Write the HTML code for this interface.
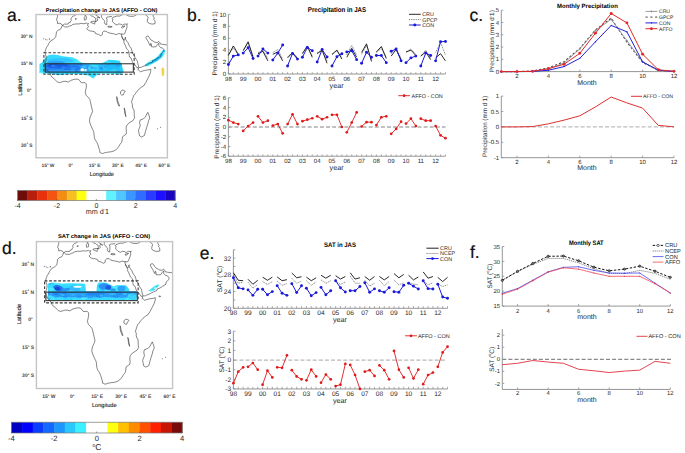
<!DOCTYPE html>
<html><head><meta charset="utf-8"><title>Figure</title>
<style>html,body{margin:0;padding:0;background:#fff;} svg{display:block;} text{font-family:"Liberation Sans", sans-serif;text-rendering:geometricPrecision;}</style>
</head><body>
<svg width="685" height="453" viewBox="0 0 685 453">
<rect width="685" height="453" fill="#fff"/>
<text x="7.00" y="20.80" font-size="17.5" text-anchor="start" fill="#111" stroke="#111" stroke-width="0.2">a.</text>
<text x="187.00" y="21.00" font-size="17.5" text-anchor="start" fill="#111" stroke="#111" stroke-width="0.2">b.</text>
<text x="469.50" y="20.80" font-size="17.5" text-anchor="start" fill="#111" stroke="#111" stroke-width="0.2">c.</text>
<text x="2.00" y="254.40" font-size="17.5" text-anchor="start" fill="#111" stroke="#111" stroke-width="0.2">d.</text>
<text x="199.80" y="258.70" font-size="17.5" text-anchor="start" fill="#111" stroke="#111" stroke-width="0.2">e.</text>
<text x="470.00" y="258.40" font-size="17.5" text-anchor="start" fill="#111" stroke="#111" stroke-width="0.2">f.</text>
<path d="M228.4,14.300000000000004 L228.4,74.0 L445.4666666666667,74.0" fill="none" stroke="#8a8a8a" stroke-width="0.9"/>
<path d="M228.4,74.00 h2.0" stroke="#8a8a8a" stroke-width="0.8"/>
<path d="M228.4,62.06 h2.0" stroke="#8a8a8a" stroke-width="0.8"/>
<path d="M228.4,50.12 h2.0" stroke="#8a8a8a" stroke-width="0.8"/>
<path d="M228.4,38.18 h2.0" stroke="#8a8a8a" stroke-width="0.8"/>
<path d="M228.4,26.24 h2.0" stroke="#8a8a8a" stroke-width="0.8"/>
<path d="M228.4,14.30 h2.0" stroke="#8a8a8a" stroke-width="0.8"/>
<text x="226.20" y="76.20" font-size="6.1" text-anchor="end" fill="#282828">0</text>
<text x="226.20" y="64.26" font-size="6.1" text-anchor="end" fill="#282828">2</text>
<text x="226.20" y="52.32" font-size="6.1" text-anchor="end" fill="#282828">4</text>
<text x="226.20" y="40.38" font-size="6.1" text-anchor="end" fill="#282828">6</text>
<text x="226.20" y="28.44" font-size="6.1" text-anchor="end" fill="#282828">8</text>
<text x="226.20" y="16.50" font-size="6.1" text-anchor="end" fill="#282828">10</text>
<path d="M228.40,74.0 v-1.8" stroke="#8a8a8a" stroke-width="0.7"/>
<path d="M233.33,74.0 v-1.8" stroke="#8a8a8a" stroke-width="0.7"/>
<path d="M238.27,74.0 v-1.8" stroke="#8a8a8a" stroke-width="0.7"/>
<path d="M243.20,74.0 v-1.8" stroke="#8a8a8a" stroke-width="0.7"/>
<path d="M248.13,74.0 v-1.8" stroke="#8a8a8a" stroke-width="0.7"/>
<path d="M253.07,74.0 v-1.8" stroke="#8a8a8a" stroke-width="0.7"/>
<path d="M258.00,74.0 v-1.8" stroke="#8a8a8a" stroke-width="0.7"/>
<path d="M262.93,74.0 v-1.8" stroke="#8a8a8a" stroke-width="0.7"/>
<path d="M267.87,74.0 v-1.8" stroke="#8a8a8a" stroke-width="0.7"/>
<path d="M272.80,74.0 v-1.8" stroke="#8a8a8a" stroke-width="0.7"/>
<path d="M277.73,74.0 v-1.8" stroke="#8a8a8a" stroke-width="0.7"/>
<path d="M282.67,74.0 v-1.8" stroke="#8a8a8a" stroke-width="0.7"/>
<path d="M287.60,74.0 v-1.8" stroke="#8a8a8a" stroke-width="0.7"/>
<path d="M292.53,74.0 v-1.8" stroke="#8a8a8a" stroke-width="0.7"/>
<path d="M297.47,74.0 v-1.8" stroke="#8a8a8a" stroke-width="0.7"/>
<path d="M302.40,74.0 v-1.8" stroke="#8a8a8a" stroke-width="0.7"/>
<path d="M307.33,74.0 v-1.8" stroke="#8a8a8a" stroke-width="0.7"/>
<path d="M312.27,74.0 v-1.8" stroke="#8a8a8a" stroke-width="0.7"/>
<path d="M317.20,74.0 v-1.8" stroke="#8a8a8a" stroke-width="0.7"/>
<path d="M322.13,74.0 v-1.8" stroke="#8a8a8a" stroke-width="0.7"/>
<path d="M327.07,74.0 v-1.8" stroke="#8a8a8a" stroke-width="0.7"/>
<path d="M332.00,74.0 v-1.8" stroke="#8a8a8a" stroke-width="0.7"/>
<path d="M336.93,74.0 v-1.8" stroke="#8a8a8a" stroke-width="0.7"/>
<path d="M341.87,74.0 v-1.8" stroke="#8a8a8a" stroke-width="0.7"/>
<path d="M346.80,74.0 v-1.8" stroke="#8a8a8a" stroke-width="0.7"/>
<path d="M351.73,74.0 v-1.8" stroke="#8a8a8a" stroke-width="0.7"/>
<path d="M356.67,74.0 v-1.8" stroke="#8a8a8a" stroke-width="0.7"/>
<path d="M361.60,74.0 v-1.8" stroke="#8a8a8a" stroke-width="0.7"/>
<path d="M366.53,74.0 v-1.8" stroke="#8a8a8a" stroke-width="0.7"/>
<path d="M371.47,74.0 v-1.8" stroke="#8a8a8a" stroke-width="0.7"/>
<path d="M376.40,74.0 v-1.8" stroke="#8a8a8a" stroke-width="0.7"/>
<path d="M381.33,74.0 v-1.8" stroke="#8a8a8a" stroke-width="0.7"/>
<path d="M386.27,74.0 v-1.8" stroke="#8a8a8a" stroke-width="0.7"/>
<path d="M391.20,74.0 v-1.8" stroke="#8a8a8a" stroke-width="0.7"/>
<path d="M396.13,74.0 v-1.8" stroke="#8a8a8a" stroke-width="0.7"/>
<path d="M401.07,74.0 v-1.8" stroke="#8a8a8a" stroke-width="0.7"/>
<path d="M406.00,74.0 v-1.8" stroke="#8a8a8a" stroke-width="0.7"/>
<path d="M410.93,74.0 v-1.8" stroke="#8a8a8a" stroke-width="0.7"/>
<path d="M415.87,74.0 v-1.8" stroke="#8a8a8a" stroke-width="0.7"/>
<path d="M420.80,74.0 v-1.8" stroke="#8a8a8a" stroke-width="0.7"/>
<path d="M425.73,74.0 v-1.8" stroke="#8a8a8a" stroke-width="0.7"/>
<path d="M430.67,74.0 v-1.8" stroke="#8a8a8a" stroke-width="0.7"/>
<path d="M435.60,74.0 v-1.8" stroke="#8a8a8a" stroke-width="0.7"/>
<path d="M440.53,74.0 v-1.8" stroke="#8a8a8a" stroke-width="0.7"/>
<path d="M445.47,74.0 v-1.8" stroke="#8a8a8a" stroke-width="0.7"/>
<text x="228.40" y="80.80" font-size="6.1" text-anchor="middle" fill="#282828">98</text>
<text x="243.20" y="80.80" font-size="6.1" text-anchor="middle" fill="#282828">99</text>
<text x="258.00" y="80.80" font-size="6.1" text-anchor="middle" fill="#282828">00</text>
<text x="272.80" y="80.80" font-size="6.1" text-anchor="middle" fill="#282828">01</text>
<text x="287.60" y="80.80" font-size="6.1" text-anchor="middle" fill="#282828">02</text>
<text x="302.40" y="80.80" font-size="6.1" text-anchor="middle" fill="#282828">03</text>
<text x="317.20" y="80.80" font-size="6.1" text-anchor="middle" fill="#282828">04</text>
<text x="332.00" y="80.80" font-size="6.1" text-anchor="middle" fill="#282828">05</text>
<text x="346.80" y="80.80" font-size="6.1" text-anchor="middle" fill="#282828">06</text>
<text x="361.60" y="80.80" font-size="6.1" text-anchor="middle" fill="#282828">07</text>
<text x="376.40" y="80.80" font-size="6.1" text-anchor="middle" fill="#282828">08</text>
<text x="391.20" y="80.80" font-size="6.1" text-anchor="middle" fill="#282828">09</text>
<text x="406.00" y="80.80" font-size="6.1" text-anchor="middle" fill="#282828">10</text>
<text x="420.80" y="80.80" font-size="6.1" text-anchor="middle" fill="#282828">11</text>
<text x="435.60" y="80.80" font-size="6.1" text-anchor="middle" fill="#282828">12</text>
<path d="M228.40,54.30 L233.33,48.33 L238.27,54.90" fill="none" stroke="#444" stroke-width="0.7" stroke-dasharray="1,0.8" stroke-linejoin="round"/>
<path d="M243.20,50.12 L248.13,42.96 L253.07,56.09" fill="none" stroke="#444" stroke-width="0.7" stroke-dasharray="1,0.8" stroke-linejoin="round"/>
<path d="M258.00,52.51 L262.93,50.12 L267.87,58.48" fill="none" stroke="#444" stroke-width="0.7" stroke-dasharray="1,0.8" stroke-linejoin="round"/>
<path d="M272.80,52.51 L277.73,49.52 L282.67,59.08" fill="none" stroke="#444" stroke-width="0.7" stroke-dasharray="1,0.8" stroke-linejoin="round"/>
<path d="M287.60,56.69 L292.53,53.11 L297.47,57.88" fill="none" stroke="#444" stroke-width="0.7" stroke-dasharray="1,0.8" stroke-linejoin="round"/>
<path d="M302.40,52.51 L307.33,47.14 L312.27,56.09" fill="none" stroke="#444" stroke-width="0.7" stroke-dasharray="1,0.8" stroke-linejoin="round"/>
<path d="M317.20,52.51 L322.13,50.12 L327.07,60.87" fill="none" stroke="#444" stroke-width="0.7" stroke-dasharray="1,0.8" stroke-linejoin="round"/>
<path d="M332.00,54.90 L336.93,50.72 L341.87,57.28" fill="none" stroke="#444" stroke-width="0.7" stroke-dasharray="1,0.8" stroke-linejoin="round"/>
<path d="M346.80,54.90 L351.73,45.34 L356.67,54.90" fill="none" stroke="#444" stroke-width="0.7" stroke-dasharray="1,0.8" stroke-linejoin="round"/>
<path d="M361.60,54.30 L366.53,45.34 L371.47,60.27" fill="none" stroke="#444" stroke-width="0.7" stroke-dasharray="1,0.8" stroke-linejoin="round"/>
<path d="M376.40,52.51 L381.33,48.33 L386.27,57.28" fill="none" stroke="#444" stroke-width="0.7" stroke-dasharray="1,0.8" stroke-linejoin="round"/>
<path d="M391.20,53.70 L396.13,48.33 L401.07,58.48" fill="none" stroke="#444" stroke-width="0.7" stroke-dasharray="1,0.8" stroke-linejoin="round"/>
<path d="M406.00,52.51 L410.93,48.93 L415.87,54.30" fill="none" stroke="#444" stroke-width="0.7" stroke-dasharray="1,0.8" stroke-linejoin="round"/>
<path d="M420.80,56.09 L425.73,50.12 L430.67,58.48" fill="none" stroke="#444" stroke-width="0.7" stroke-dasharray="1,0.8" stroke-linejoin="round"/>
<path d="M435.60,52.51 L440.53,42.36 L445.47,54.90" fill="none" stroke="#444" stroke-width="0.7" stroke-dasharray="1,0.8" stroke-linejoin="round"/>
<path d="M228.40,55.49 L233.33,45.94 L238.27,54.30" fill="none" stroke="#111" stroke-width="0.9" stroke-linejoin="round"/>
<path d="M243.20,50.72 L248.13,41.76 L253.07,57.28" fill="none" stroke="#111" stroke-width="0.9" stroke-linejoin="round"/>
<path d="M258.00,53.70 L262.93,51.31 L267.87,60.87" fill="none" stroke="#111" stroke-width="0.9" stroke-linejoin="round"/>
<path d="M272.80,54.30 L277.73,51.91 L282.67,60.87" fill="none" stroke="#111" stroke-width="0.9" stroke-linejoin="round"/>
<path d="M287.60,57.88 L292.53,52.51 L297.47,58.48" fill="none" stroke="#111" stroke-width="0.9" stroke-linejoin="round"/>
<path d="M302.40,53.70 L307.33,45.94 L312.27,57.28" fill="none" stroke="#111" stroke-width="0.9" stroke-linejoin="round"/>
<path d="M317.20,53.70 L322.13,50.12 L327.07,63.25" fill="none" stroke="#111" stroke-width="0.9" stroke-linejoin="round"/>
<path d="M332.00,54.30 L336.93,50.12 L341.87,59.08" fill="none" stroke="#111" stroke-width="0.9" stroke-linejoin="round"/>
<path d="M346.80,57.28 L351.73,48.33 L356.67,57.28" fill="none" stroke="#111" stroke-width="0.9" stroke-linejoin="round"/>
<path d="M361.60,52.51 L366.53,43.85 L371.47,61.46" fill="none" stroke="#111" stroke-width="0.9" stroke-linejoin="round"/>
<path d="M376.40,51.91 L381.33,46.54 L386.27,58.48" fill="none" stroke="#111" stroke-width="0.9" stroke-linejoin="round"/>
<path d="M391.20,56.09 L396.13,49.52 L401.07,59.67" fill="none" stroke="#111" stroke-width="0.9" stroke-linejoin="round"/>
<path d="M406.00,51.91 L410.93,50.12 L415.87,55.49" fill="none" stroke="#111" stroke-width="0.9" stroke-linejoin="round"/>
<path d="M420.80,56.09 L425.73,51.91 L430.67,59.67" fill="none" stroke="#111" stroke-width="0.9" stroke-linejoin="round"/>
<path d="M435.60,57.88 L440.53,53.70 L445.47,60.87" fill="none" stroke="#111" stroke-width="0.9" stroke-linejoin="round"/>
<path d="M228.40,64.45 L233.33,56.09 L238.27,54.90" fill="none" stroke="#1a1ad8" stroke-width="1.0" stroke-linejoin="round"/>
<circle cx="228.40" cy="64.45" r="1.45" fill="#1a1ad8"/>
<circle cx="233.33" cy="56.09" r="1.45" fill="#1a1ad8"/>
<circle cx="238.27" cy="54.90" r="1.45" fill="#1a1ad8"/>
<path d="M243.20,53.11 L248.13,47.73 L253.07,58.48" fill="none" stroke="#1a1ad8" stroke-width="1.0" stroke-linejoin="round"/>
<circle cx="243.20" cy="53.11" r="1.45" fill="#1a1ad8"/>
<circle cx="248.13" cy="47.73" r="1.45" fill="#1a1ad8"/>
<circle cx="253.07" cy="58.48" r="1.45" fill="#1a1ad8"/>
<path d="M258.00,56.09 L262.93,48.93 L267.87,53.11" fill="none" stroke="#1a1ad8" stroke-width="1.0" stroke-linejoin="round"/>
<circle cx="258.00" cy="56.09" r="1.45" fill="#1a1ad8"/>
<circle cx="262.93" cy="48.93" r="1.45" fill="#1a1ad8"/>
<circle cx="267.87" cy="53.11" r="1.45" fill="#1a1ad8"/>
<path d="M272.80,59.97 L277.73,53.11 L282.67,45.05" fill="none" stroke="#1a1ad8" stroke-width="1.0" stroke-linejoin="round"/>
<circle cx="272.80" cy="59.97" r="1.45" fill="#1a1ad8"/>
<circle cx="277.73" cy="53.11" r="1.45" fill="#1a1ad8"/>
<circle cx="282.67" cy="45.05" r="1.45" fill="#1a1ad8"/>
<path d="M287.60,65.94 L292.53,53.40 L297.47,59.08" fill="none" stroke="#1a1ad8" stroke-width="1.0" stroke-linejoin="round"/>
<circle cx="287.60" cy="65.94" r="1.45" fill="#1a1ad8"/>
<circle cx="292.53" cy="53.40" r="1.45" fill="#1a1ad8"/>
<circle cx="297.47" cy="59.08" r="1.45" fill="#1a1ad8"/>
<path d="M302.40,57.28 L307.33,47.43 L312.27,50.72" fill="none" stroke="#1a1ad8" stroke-width="1.0" stroke-linejoin="round"/>
<circle cx="302.40" cy="57.28" r="1.45" fill="#1a1ad8"/>
<circle cx="307.33" cy="47.43" r="1.45" fill="#1a1ad8"/>
<circle cx="312.27" cy="50.72" r="1.45" fill="#1a1ad8"/>
<path d="M317.20,62.06 L322.13,49.52 L327.07,56.99" fill="none" stroke="#1a1ad8" stroke-width="1.0" stroke-linejoin="round"/>
<circle cx="317.20" cy="62.06" r="1.45" fill="#1a1ad8"/>
<circle cx="322.13" cy="49.52" r="1.45" fill="#1a1ad8"/>
<circle cx="327.07" cy="56.99" r="1.45" fill="#1a1ad8"/>
<path d="M332.00,65.94 L336.93,56.69 L341.87,53.70" fill="none" stroke="#1a1ad8" stroke-width="1.0" stroke-linejoin="round"/>
<circle cx="332.00" cy="65.94" r="1.45" fill="#1a1ad8"/>
<circle cx="336.93" cy="56.69" r="1.45" fill="#1a1ad8"/>
<circle cx="341.87" cy="53.70" r="1.45" fill="#1a1ad8"/>
<path d="M346.80,51.91 L351.73,50.72 L356.67,59.67" fill="none" stroke="#1a1ad8" stroke-width="1.0" stroke-linejoin="round"/>
<circle cx="346.80" cy="51.91" r="1.45" fill="#1a1ad8"/>
<circle cx="351.73" cy="50.72" r="1.45" fill="#1a1ad8"/>
<circle cx="356.67" cy="59.67" r="1.45" fill="#1a1ad8"/>
<path d="M361.60,63.25 L366.53,52.21 L371.47,57.28" fill="none" stroke="#1a1ad8" stroke-width="1.0" stroke-linejoin="round"/>
<circle cx="361.60" cy="63.25" r="1.45" fill="#1a1ad8"/>
<circle cx="366.53" cy="52.21" r="1.45" fill="#1a1ad8"/>
<circle cx="371.47" cy="57.28" r="1.45" fill="#1a1ad8"/>
<path d="M376.40,55.49 L381.33,55.49 L386.27,62.66" fill="none" stroke="#1a1ad8" stroke-width="1.0" stroke-linejoin="round"/>
<circle cx="376.40" cy="55.49" r="1.45" fill="#1a1ad8"/>
<circle cx="381.33" cy="55.49" r="1.45" fill="#1a1ad8"/>
<circle cx="386.27" cy="62.66" r="1.45" fill="#1a1ad8"/>
<path d="M391.20,51.31 L396.13,48.93 L401.07,60.87" fill="none" stroke="#1a1ad8" stroke-width="1.0" stroke-linejoin="round"/>
<circle cx="391.20" cy="51.31" r="1.45" fill="#1a1ad8"/>
<circle cx="396.13" cy="48.93" r="1.45" fill="#1a1ad8"/>
<circle cx="401.07" cy="60.87" r="1.45" fill="#1a1ad8"/>
<path d="M406.00,62.66 L410.93,57.88 L415.87,56.09" fill="none" stroke="#1a1ad8" stroke-width="1.0" stroke-linejoin="round"/>
<circle cx="406.00" cy="62.66" r="1.45" fill="#1a1ad8"/>
<circle cx="410.93" cy="57.88" r="1.45" fill="#1a1ad8"/>
<circle cx="415.87" cy="56.09" r="1.45" fill="#1a1ad8"/>
<path d="M420.80,65.94 L425.73,53.11 L430.67,55.49" fill="none" stroke="#1a1ad8" stroke-width="1.0" stroke-linejoin="round"/>
<circle cx="420.80" cy="65.94" r="1.45" fill="#1a1ad8"/>
<circle cx="425.73" cy="53.11" r="1.45" fill="#1a1ad8"/>
<circle cx="430.67" cy="55.49" r="1.45" fill="#1a1ad8"/>
<path d="M435.60,60.87 L440.53,41.76 L445.47,41.46" fill="none" stroke="#1a1ad8" stroke-width="1.0" stroke-linejoin="round"/>
<circle cx="435.60" cy="60.87" r="1.45" fill="#1a1ad8"/>
<circle cx="440.53" cy="41.76" r="1.45" fill="#1a1ad8"/>
<circle cx="445.47" cy="41.46" r="1.45" fill="#1a1ad8"/>
<text x="337.00" y="11.70" font-size="7" text-anchor="middle" fill="#000" font-weight="bold" textLength="58.4" lengthAdjust="spacingAndGlyphs">Precipitation in JAS</text>
<text x="336.60" y="87.59" font-size="7.2" text-anchor="middle" fill="#282828">year</text>
<text x="217.08" y="43.40" font-size="6.6" text-anchor="middle" fill="#282828" textLength="64.4" lengthAdjust="spacingAndGlyphs" transform="rotate(-90 217.08 43.40)">Precipitation (mm d<tspan font-size="4.2" dy="-2.4">-</tspan><tspan dy="2.4">1)</tspan></text>
<path d="M409.00,14.30 L420.70,14.30" fill="none" stroke="#111" stroke-width="0.9" stroke-linejoin="round"/>
<path d="M409.00,19.60 L420.70,19.60" fill="none" stroke="#444" stroke-width="0.7" stroke-dasharray="1,0.8" stroke-linejoin="round"/>
<path d="M409.00,25.00 L420.70,25.00" fill="none" stroke="#1a1ad8" stroke-width="1.0" stroke-linejoin="round"/>
<circle cx="414.80" cy="25.00" r="1.45" fill="#1a1ad8"/>
<text x="422.20" y="16.24" font-size="5.4" text-anchor="start" fill="#282828">CRU</text>
<text x="422.20" y="21.54" font-size="5.4" text-anchor="start" fill="#282828">GPCP</text>
<text x="422.20" y="26.94" font-size="5.4" text-anchor="start" fill="#282828">CON</text>
<path d="M228.4,127.00 L445.47,127.00" stroke="#5a5a5a" stroke-width="0.75" stroke-dasharray="4,2.1"/>
<path d="M228.4,97.78 L228.4,156.22 L445.4666666666667,156.22" fill="none" stroke="#8a8a8a" stroke-width="0.9"/>
<path d="M228.4,156.22 h2.0" stroke="#8a8a8a" stroke-width="0.8"/>
<path d="M228.4,146.48 h2.0" stroke="#8a8a8a" stroke-width="0.8"/>
<path d="M228.4,136.74 h2.0" stroke="#8a8a8a" stroke-width="0.8"/>
<path d="M228.4,127.00 h2.0" stroke="#8a8a8a" stroke-width="0.8"/>
<path d="M228.4,117.26 h2.0" stroke="#8a8a8a" stroke-width="0.8"/>
<path d="M228.4,107.52 h2.0" stroke="#8a8a8a" stroke-width="0.8"/>
<path d="M228.4,97.78 h2.0" stroke="#8a8a8a" stroke-width="0.8"/>
<text x="226.20" y="158.42" font-size="6.1" text-anchor="end" fill="#282828">-6</text>
<text x="226.20" y="148.68" font-size="6.1" text-anchor="end" fill="#282828">-4</text>
<text x="226.20" y="138.94" font-size="6.1" text-anchor="end" fill="#282828">-2</text>
<text x="226.20" y="129.20" font-size="6.1" text-anchor="end" fill="#282828">0</text>
<text x="226.20" y="119.46" font-size="6.1" text-anchor="end" fill="#282828">2</text>
<text x="226.20" y="109.72" font-size="6.1" text-anchor="end" fill="#282828">4</text>
<text x="226.20" y="99.98" font-size="6.1" text-anchor="end" fill="#282828">6</text>
<path d="M228.40,156.22 v-1.8" stroke="#8a8a8a" stroke-width="0.7"/>
<path d="M233.33,156.22 v-1.8" stroke="#8a8a8a" stroke-width="0.7"/>
<path d="M238.27,156.22 v-1.8" stroke="#8a8a8a" stroke-width="0.7"/>
<path d="M243.20,156.22 v-1.8" stroke="#8a8a8a" stroke-width="0.7"/>
<path d="M248.13,156.22 v-1.8" stroke="#8a8a8a" stroke-width="0.7"/>
<path d="M253.07,156.22 v-1.8" stroke="#8a8a8a" stroke-width="0.7"/>
<path d="M258.00,156.22 v-1.8" stroke="#8a8a8a" stroke-width="0.7"/>
<path d="M262.93,156.22 v-1.8" stroke="#8a8a8a" stroke-width="0.7"/>
<path d="M267.87,156.22 v-1.8" stroke="#8a8a8a" stroke-width="0.7"/>
<path d="M272.80,156.22 v-1.8" stroke="#8a8a8a" stroke-width="0.7"/>
<path d="M277.73,156.22 v-1.8" stroke="#8a8a8a" stroke-width="0.7"/>
<path d="M282.67,156.22 v-1.8" stroke="#8a8a8a" stroke-width="0.7"/>
<path d="M287.60,156.22 v-1.8" stroke="#8a8a8a" stroke-width="0.7"/>
<path d="M292.53,156.22 v-1.8" stroke="#8a8a8a" stroke-width="0.7"/>
<path d="M297.47,156.22 v-1.8" stroke="#8a8a8a" stroke-width="0.7"/>
<path d="M302.40,156.22 v-1.8" stroke="#8a8a8a" stroke-width="0.7"/>
<path d="M307.33,156.22 v-1.8" stroke="#8a8a8a" stroke-width="0.7"/>
<path d="M312.27,156.22 v-1.8" stroke="#8a8a8a" stroke-width="0.7"/>
<path d="M317.20,156.22 v-1.8" stroke="#8a8a8a" stroke-width="0.7"/>
<path d="M322.13,156.22 v-1.8" stroke="#8a8a8a" stroke-width="0.7"/>
<path d="M327.07,156.22 v-1.8" stroke="#8a8a8a" stroke-width="0.7"/>
<path d="M332.00,156.22 v-1.8" stroke="#8a8a8a" stroke-width="0.7"/>
<path d="M336.93,156.22 v-1.8" stroke="#8a8a8a" stroke-width="0.7"/>
<path d="M341.87,156.22 v-1.8" stroke="#8a8a8a" stroke-width="0.7"/>
<path d="M346.80,156.22 v-1.8" stroke="#8a8a8a" stroke-width="0.7"/>
<path d="M351.73,156.22 v-1.8" stroke="#8a8a8a" stroke-width="0.7"/>
<path d="M356.67,156.22 v-1.8" stroke="#8a8a8a" stroke-width="0.7"/>
<path d="M361.60,156.22 v-1.8" stroke="#8a8a8a" stroke-width="0.7"/>
<path d="M366.53,156.22 v-1.8" stroke="#8a8a8a" stroke-width="0.7"/>
<path d="M371.47,156.22 v-1.8" stroke="#8a8a8a" stroke-width="0.7"/>
<path d="M376.40,156.22 v-1.8" stroke="#8a8a8a" stroke-width="0.7"/>
<path d="M381.33,156.22 v-1.8" stroke="#8a8a8a" stroke-width="0.7"/>
<path d="M386.27,156.22 v-1.8" stroke="#8a8a8a" stroke-width="0.7"/>
<path d="M391.20,156.22 v-1.8" stroke="#8a8a8a" stroke-width="0.7"/>
<path d="M396.13,156.22 v-1.8" stroke="#8a8a8a" stroke-width="0.7"/>
<path d="M401.07,156.22 v-1.8" stroke="#8a8a8a" stroke-width="0.7"/>
<path d="M406.00,156.22 v-1.8" stroke="#8a8a8a" stroke-width="0.7"/>
<path d="M410.93,156.22 v-1.8" stroke="#8a8a8a" stroke-width="0.7"/>
<path d="M415.87,156.22 v-1.8" stroke="#8a8a8a" stroke-width="0.7"/>
<path d="M420.80,156.22 v-1.8" stroke="#8a8a8a" stroke-width="0.7"/>
<path d="M425.73,156.22 v-1.8" stroke="#8a8a8a" stroke-width="0.7"/>
<path d="M430.67,156.22 v-1.8" stroke="#8a8a8a" stroke-width="0.7"/>
<path d="M435.60,156.22 v-1.8" stroke="#8a8a8a" stroke-width="0.7"/>
<path d="M440.53,156.22 v-1.8" stroke="#8a8a8a" stroke-width="0.7"/>
<path d="M445.47,156.22 v-1.8" stroke="#8a8a8a" stroke-width="0.7"/>
<text x="228.40" y="163.00" font-size="6.1" text-anchor="middle" fill="#282828">98</text>
<text x="243.20" y="163.00" font-size="6.1" text-anchor="middle" fill="#282828">99</text>
<text x="258.00" y="163.00" font-size="6.1" text-anchor="middle" fill="#282828">00</text>
<text x="272.80" y="163.00" font-size="6.1" text-anchor="middle" fill="#282828">01</text>
<text x="287.60" y="163.00" font-size="6.1" text-anchor="middle" fill="#282828">02</text>
<text x="302.40" y="163.00" font-size="6.1" text-anchor="middle" fill="#282828">03</text>
<text x="317.20" y="163.00" font-size="6.1" text-anchor="middle" fill="#282828">04</text>
<text x="332.00" y="163.00" font-size="6.1" text-anchor="middle" fill="#282828">05</text>
<text x="346.80" y="163.00" font-size="6.1" text-anchor="middle" fill="#282828">06</text>
<text x="361.60" y="163.00" font-size="6.1" text-anchor="middle" fill="#282828">07</text>
<text x="376.40" y="163.00" font-size="6.1" text-anchor="middle" fill="#282828">08</text>
<text x="391.20" y="163.00" font-size="6.1" text-anchor="middle" fill="#282828">09</text>
<text x="406.00" y="163.00" font-size="6.1" text-anchor="middle" fill="#282828">10</text>
<text x="420.80" y="163.00" font-size="6.1" text-anchor="middle" fill="#282828">11</text>
<text x="435.60" y="163.00" font-size="6.1" text-anchor="middle" fill="#282828">12</text>
<path d="M228.40,120.18 L233.33,122.62 L238.27,124.08" fill="none" stroke="#e01818" stroke-width="0.9" stroke-linejoin="round"/>
<circle cx="228.40" cy="120.18" r="1.35" fill="#e01818"/>
<circle cx="233.33" cy="122.62" r="1.35" fill="#e01818"/>
<circle cx="238.27" cy="124.08" r="1.35" fill="#e01818"/>
<path d="M243.20,130.90 L248.13,126.03 L253.07,122.62" fill="none" stroke="#e01818" stroke-width="0.9" stroke-linejoin="round"/>
<circle cx="243.20" cy="130.90" r="1.35" fill="#e01818"/>
<circle cx="248.13" cy="126.03" r="1.35" fill="#e01818"/>
<circle cx="253.07" cy="122.62" r="1.35" fill="#e01818"/>
<path d="M258.00,116.29 L262.93,122.62 L267.87,120.67" fill="none" stroke="#e01818" stroke-width="0.9" stroke-linejoin="round"/>
<circle cx="258.00" cy="116.29" r="1.35" fill="#e01818"/>
<circle cx="262.93" cy="122.62" r="1.35" fill="#e01818"/>
<circle cx="267.87" cy="120.67" r="1.35" fill="#e01818"/>
<path d="M272.80,125.54 L277.73,124.08 L282.67,133.33" fill="none" stroke="#e01818" stroke-width="0.9" stroke-linejoin="round"/>
<circle cx="272.80" cy="125.54" r="1.35" fill="#e01818"/>
<circle cx="277.73" cy="124.08" r="1.35" fill="#e01818"/>
<circle cx="282.67" cy="133.33" r="1.35" fill="#e01818"/>
<path d="M287.60,124.08 L292.53,114.34 L297.47,124.08" fill="none" stroke="#e01818" stroke-width="0.9" stroke-linejoin="round"/>
<circle cx="287.60" cy="124.08" r="1.35" fill="#e01818"/>
<circle cx="292.53" cy="114.34" r="1.35" fill="#e01818"/>
<circle cx="297.47" cy="124.08" r="1.35" fill="#e01818"/>
<path d="M302.40,121.16 L307.33,119.69 L312.27,118.23" fill="none" stroke="#e01818" stroke-width="0.9" stroke-linejoin="round"/>
<circle cx="302.40" cy="121.16" r="1.35" fill="#e01818"/>
<circle cx="307.33" cy="119.69" r="1.35" fill="#e01818"/>
<circle cx="312.27" cy="118.23" r="1.35" fill="#e01818"/>
<path d="M317.20,116.29 L322.13,119.21 L327.07,117.26" fill="none" stroke="#e01818" stroke-width="0.9" stroke-linejoin="round"/>
<circle cx="317.20" cy="116.29" r="1.35" fill="#e01818"/>
<circle cx="322.13" cy="119.21" r="1.35" fill="#e01818"/>
<circle cx="327.07" cy="117.26" r="1.35" fill="#e01818"/>
<path d="M332.00,114.83 L336.93,114.83 L341.87,127.00" fill="none" stroke="#e01818" stroke-width="0.9" stroke-linejoin="round"/>
<circle cx="332.00" cy="114.83" r="1.35" fill="#e01818"/>
<circle cx="336.93" cy="114.83" r="1.35" fill="#e01818"/>
<circle cx="341.87" cy="127.00" r="1.35" fill="#e01818"/>
<path d="M346.80,132.36 L351.73,122.62 L356.67,112.39" fill="none" stroke="#e01818" stroke-width="0.9" stroke-linejoin="round"/>
<circle cx="346.80" cy="132.36" r="1.35" fill="#e01818"/>
<circle cx="351.73" cy="122.62" r="1.35" fill="#e01818"/>
<circle cx="356.67" cy="112.39" r="1.35" fill="#e01818"/>
<path d="M361.60,126.51 L366.53,122.13 L371.47,122.13" fill="none" stroke="#e01818" stroke-width="0.9" stroke-linejoin="round"/>
<circle cx="361.60" cy="126.51" r="1.35" fill="#e01818"/>
<circle cx="366.53" cy="122.13" r="1.35" fill="#e01818"/>
<circle cx="371.47" cy="122.13" r="1.35" fill="#e01818"/>
<path d="M376.40,125.05 L381.33,117.26 L386.27,116.29" fill="none" stroke="#e01818" stroke-width="0.9" stroke-linejoin="round"/>
<circle cx="376.40" cy="125.05" r="1.35" fill="#e01818"/>
<circle cx="381.33" cy="117.26" r="1.35" fill="#e01818"/>
<circle cx="386.27" cy="116.29" r="1.35" fill="#e01818"/>
<path d="M391.20,133.82 L396.13,128.95 L401.07,121.64" fill="none" stroke="#e01818" stroke-width="0.9" stroke-linejoin="round"/>
<circle cx="391.20" cy="133.82" r="1.35" fill="#e01818"/>
<circle cx="396.13" cy="128.95" r="1.35" fill="#e01818"/>
<circle cx="401.07" cy="121.64" r="1.35" fill="#e01818"/>
<path d="M406.00,123.59 L410.93,118.72 L415.87,126.03" fill="none" stroke="#e01818" stroke-width="0.9" stroke-linejoin="round"/>
<circle cx="406.00" cy="123.59" r="1.35" fill="#e01818"/>
<circle cx="410.93" cy="118.72" r="1.35" fill="#e01818"/>
<circle cx="415.87" cy="126.03" r="1.35" fill="#e01818"/>
<path d="M420.80,118.72 L425.73,120.67 L430.67,120.67" fill="none" stroke="#e01818" stroke-width="0.9" stroke-linejoin="round"/>
<circle cx="420.80" cy="118.72" r="1.35" fill="#e01818"/>
<circle cx="425.73" cy="120.67" r="1.35" fill="#e01818"/>
<circle cx="430.67" cy="120.67" r="1.35" fill="#e01818"/>
<path d="M435.60,126.03 L440.53,135.28 L445.47,138.20" fill="none" stroke="#e01818" stroke-width="0.9" stroke-linejoin="round"/>
<circle cx="435.60" cy="126.03" r="1.35" fill="#e01818"/>
<circle cx="440.53" cy="135.28" r="1.35" fill="#e01818"/>
<circle cx="445.47" cy="138.20" r="1.35" fill="#e01818"/>
<text x="336.60" y="170.09" font-size="7.2" text-anchor="middle" fill="#282828">year</text>
<text x="219.18" y="127.00" font-size="6.6" text-anchor="middle" fill="#282828" textLength="63.4" lengthAdjust="spacingAndGlyphs" transform="rotate(-90 219.18 127.00)">Precipitation (mm d<tspan font-size="4.2" dy="-2.4">-</tspan><tspan dy="2.4">1)</tspan></text>
<path d="M398.30,95.70 L410.10,95.70" fill="none" stroke="#e01818" stroke-width="0.9" stroke-linejoin="round"/>
<circle cx="404.20" cy="95.70" r="1.35" fill="#e01818"/>
<text x="411.60" y="97.64" font-size="5.4" text-anchor="start" fill="#282828">AFFO - CON</text>
<path d="M501.3,10.199999999999996 L501.3,71.6 L674.0,71.6" fill="none" stroke="#8a8a8a" stroke-width="0.9"/>
<path d="M501.3,71.60 h2.0" stroke="#8a8a8a" stroke-width="0.8"/>
<path d="M501.3,59.32 h2.0" stroke="#8a8a8a" stroke-width="0.8"/>
<path d="M501.3,47.04 h2.0" stroke="#8a8a8a" stroke-width="0.8"/>
<path d="M501.3,34.76 h2.0" stroke="#8a8a8a" stroke-width="0.8"/>
<path d="M501.3,22.48 h2.0" stroke="#8a8a8a" stroke-width="0.8"/>
<path d="M501.3,10.20 h2.0" stroke="#8a8a8a" stroke-width="0.8"/>
<text x="499.10" y="73.76" font-size="6.0" text-anchor="end" fill="#282828">0</text>
<text x="499.10" y="61.48" font-size="6.0" text-anchor="end" fill="#282828">1</text>
<text x="499.10" y="49.20" font-size="6.0" text-anchor="end" fill="#282828">2</text>
<text x="499.10" y="36.92" font-size="6.0" text-anchor="end" fill="#282828">3</text>
<text x="499.10" y="24.64" font-size="6.0" text-anchor="end" fill="#282828">4</text>
<text x="499.10" y="12.36" font-size="6.0" text-anchor="end" fill="#282828">5</text>
<path d="M517.00,71.6 v-2.0" stroke="#8a8a8a" stroke-width="0.8"/>
<path d="M548.40,71.6 v-2.0" stroke="#8a8a8a" stroke-width="0.8"/>
<path d="M579.80,71.6 v-2.0" stroke="#8a8a8a" stroke-width="0.8"/>
<path d="M611.20,71.6 v-2.0" stroke="#8a8a8a" stroke-width="0.8"/>
<path d="M642.60,71.6 v-2.0" stroke="#8a8a8a" stroke-width="0.8"/>
<path d="M674.00,71.6 v-2.0" stroke="#8a8a8a" stroke-width="0.8"/>
<text x="517.00" y="78.26" font-size="6.0" text-anchor="middle" fill="#282828">2</text>
<text x="548.40" y="78.26" font-size="6.0" text-anchor="middle" fill="#282828">4</text>
<text x="579.80" y="78.26" font-size="6.0" text-anchor="middle" fill="#282828">6</text>
<text x="611.20" y="78.26" font-size="6.0" text-anchor="middle" fill="#282828">8</text>
<text x="642.60" y="78.26" font-size="6.0" text-anchor="middle" fill="#282828">10</text>
<text x="674.00" y="78.26" font-size="6.0" text-anchor="middle" fill="#282828">12</text>
<path d="M501.30,71.60 L517.00,71.60 L532.70,70.99 L548.40,67.92 L564.10,61.65 L579.80,48.39 L595.50,29.85 L611.20,18.18 L626.90,42.13 L642.60,62.39 L658.30,70.37 L674.00,71.48" fill="none" stroke="#484848" stroke-width="1.1" stroke-dasharray="2.2,2.0" stroke-linejoin="round"/>
<path d="M501.30,71.60 L517.00,71.60 L532.70,71.35 L548.40,68.90 L564.10,63.00 L579.80,48.88 L595.50,30.46 L611.20,19.29 L626.90,40.65 L642.60,61.78 L658.30,70.37 L674.00,71.48" fill="none" stroke="#909090" stroke-width="0.9" stroke-linejoin="round"/>
<path d="M500.10,71.60 l1.2,-1.2 l1.2,1.2 l-1.2,1.2 z" fill="#909090"/>
<path d="M515.80,71.60 l1.2,-1.2 l1.2,1.2 l-1.2,1.2 z" fill="#909090"/>
<path d="M531.50,71.35 l1.2,-1.2 l1.2,1.2 l-1.2,1.2 z" fill="#909090"/>
<path d="M547.20,68.90 l1.2,-1.2 l1.2,1.2 l-1.2,1.2 z" fill="#909090"/>
<path d="M562.90,63.00 l1.2,-1.2 l1.2,1.2 l-1.2,1.2 z" fill="#909090"/>
<path d="M578.60,48.88 l1.2,-1.2 l1.2,1.2 l-1.2,1.2 z" fill="#909090"/>
<path d="M594.30,30.46 l1.2,-1.2 l1.2,1.2 l-1.2,1.2 z" fill="#909090"/>
<path d="M610.00,19.29 l1.2,-1.2 l1.2,1.2 l-1.2,1.2 z" fill="#909090"/>
<path d="M625.70,40.65 l1.2,-1.2 l1.2,1.2 l-1.2,1.2 z" fill="#909090"/>
<path d="M641.40,61.78 l1.2,-1.2 l1.2,1.2 l-1.2,1.2 z" fill="#909090"/>
<path d="M657.10,70.37 l1.2,-1.2 l1.2,1.2 l-1.2,1.2 z" fill="#909090"/>
<path d="M672.80,71.48 l1.2,-1.2 l1.2,1.2 l-1.2,1.2 z" fill="#909090"/>
<path d="M501.30,71.60 L517.00,71.60 L532.70,71.48 L548.40,70.25 L564.10,66.57 L579.80,58.34 L595.50,41.76 L611.20,25.43 L626.90,31.81 L642.60,61.90 L658.30,70.13 L674.00,71.48" fill="none" stroke="#2020e0" stroke-width="1.0" stroke-linejoin="round"/>
<circle cx="501.30" cy="71.60" r="0.7" fill="#2020e0"/>
<circle cx="517.00" cy="71.60" r="0.7" fill="#2020e0"/>
<circle cx="532.70" cy="71.48" r="0.7" fill="#2020e0"/>
<circle cx="548.40" cy="70.25" r="0.7" fill="#2020e0"/>
<circle cx="564.10" cy="66.57" r="0.7" fill="#2020e0"/>
<circle cx="579.80" cy="58.34" r="0.7" fill="#2020e0"/>
<circle cx="595.50" cy="41.76" r="0.7" fill="#2020e0"/>
<circle cx="611.20" cy="25.43" r="0.7" fill="#2020e0"/>
<circle cx="626.90" cy="31.81" r="0.7" fill="#2020e0"/>
<circle cx="642.60" cy="61.90" r="0.7" fill="#2020e0"/>
<circle cx="658.30" cy="70.13" r="0.7" fill="#2020e0"/>
<circle cx="674.00" cy="71.48" r="0.7" fill="#2020e0"/>
<path d="M501.30,71.60 L517.00,71.60 L532.70,71.35 L548.40,68.65 L564.10,64.23 L579.80,53.30 L595.50,33.16 L611.20,13.52 L626.90,22.85 L642.60,54.16 L658.30,69.76 L674.00,71.35" fill="none" stroke="#e02828" stroke-width="1.0" stroke-linejoin="round"/>
<circle cx="501.30" cy="71.60" r="1.45" fill="#e02828"/>
<circle cx="517.00" cy="71.60" r="1.45" fill="#e02828"/>
<circle cx="532.70" cy="71.35" r="1.45" fill="#e02828"/>
<circle cx="548.40" cy="68.65" r="1.45" fill="#e02828"/>
<circle cx="564.10" cy="64.23" r="1.45" fill="#e02828"/>
<circle cx="579.80" cy="53.30" r="1.45" fill="#e02828"/>
<circle cx="595.50" cy="33.16" r="1.45" fill="#e02828"/>
<circle cx="611.20" cy="13.52" r="1.45" fill="#e02828"/>
<circle cx="626.90" cy="22.85" r="1.45" fill="#e02828"/>
<circle cx="642.60" cy="54.16" r="1.45" fill="#e02828"/>
<circle cx="658.30" cy="69.76" r="1.45" fill="#e02828"/>
<circle cx="674.00" cy="71.35" r="1.45" fill="#e02828"/>
<text x="587.40" y="8.20" font-size="6.2" text-anchor="middle" fill="#000" font-weight="bold" textLength="60.8" lengthAdjust="spacingAndGlyphs">Monthly Precipitation</text>
<text x="586.90" y="85.12" font-size="7.0" text-anchor="middle" fill="#282828">Month</text>
<text x="494.00" y="41.20" font-size="6.4" text-anchor="middle" fill="#282828" textLength="62.0" lengthAdjust="spacingAndGlyphs" transform="rotate(-90 494.00 41.20)">Precipitation (mm d<tspan font-size="4.2" dy="-2.4">-</tspan><tspan dy="2.4">1)</tspan></text>
<path d="M645.50,11.40 L657.40,11.40" fill="none" stroke="#909090" stroke-width="0.9" stroke-linejoin="round"/>
<path d="M650.25,11.4 l1.2,-1.2 l1.2,1.2 l-1.2,1.2 z" fill="#909090"/>
<path d="M645.50,17.10 L657.40,17.10" fill="none" stroke="#444" stroke-width="1.0" stroke-dasharray="2.2,2.6" stroke-linejoin="round"/>
<path d="M645.50,22.90 L657.40,22.90" fill="none" stroke="#2020e0" stroke-width="1.0" stroke-linejoin="round"/>
<circle cx="651.45" cy="22.90" r="0.7" fill="#2020e0"/>
<path d="M645.50,28.70 L657.40,28.70" fill="none" stroke="#e02828" stroke-width="1.0" stroke-linejoin="round"/>
<circle cx="651.45" cy="28.70" r="1.45" fill="#e02828"/>
<text x="659.00" y="13.24" font-size="5.1" text-anchor="start" fill="#282828">CRU</text>
<text x="659.00" y="18.94" font-size="5.1" text-anchor="start" fill="#282828">GPCP</text>
<text x="659.00" y="24.74" font-size="5.1" text-anchor="start" fill="#282828">CON</text>
<text x="659.00" y="30.54" font-size="5.1" text-anchor="start" fill="#282828">AFFO</text>
<path d="M501.3,126.90 L674.00,126.90" stroke="#909090" stroke-width="0.75" stroke-dasharray="4,2.1"/>
<path d="M501.3,96.10000000000001 L501.3,157.70000000000002 L674.0,157.70000000000002" fill="none" stroke="#8a8a8a" stroke-width="0.9"/>
<path d="M501.3,157.70 h2.0" stroke="#8a8a8a" stroke-width="0.8"/>
<path d="M501.3,142.30 h2.0" stroke="#8a8a8a" stroke-width="0.8"/>
<path d="M501.3,126.90 h2.0" stroke="#8a8a8a" stroke-width="0.8"/>
<path d="M501.3,111.50 h2.0" stroke="#8a8a8a" stroke-width="0.8"/>
<path d="M501.3,96.10 h2.0" stroke="#8a8a8a" stroke-width="0.8"/>
<text x="499.10" y="159.86" font-size="6.0" text-anchor="end" fill="#282828">-1</text>
<text x="499.10" y="144.46" font-size="6.0" text-anchor="end" fill="#282828">-0.5</text>
<text x="499.10" y="129.06" font-size="6.0" text-anchor="end" fill="#282828">0</text>
<text x="499.10" y="113.66" font-size="6.0" text-anchor="end" fill="#282828">0.5</text>
<text x="499.10" y="98.26" font-size="6.0" text-anchor="end" fill="#282828">1</text>
<path d="M517.00,157.70000000000002 v-2.0" stroke="#8a8a8a" stroke-width="0.8"/>
<path d="M548.40,157.70000000000002 v-2.0" stroke="#8a8a8a" stroke-width="0.8"/>
<path d="M579.80,157.70000000000002 v-2.0" stroke="#8a8a8a" stroke-width="0.8"/>
<path d="M611.20,157.70000000000002 v-2.0" stroke="#8a8a8a" stroke-width="0.8"/>
<path d="M642.60,157.70000000000002 v-2.0" stroke="#8a8a8a" stroke-width="0.8"/>
<path d="M674.00,157.70000000000002 v-2.0" stroke="#8a8a8a" stroke-width="0.8"/>
<text x="517.00" y="163.56" font-size="6.0" text-anchor="middle" fill="#282828">2</text>
<text x="548.40" y="163.56" font-size="6.0" text-anchor="middle" fill="#282828">4</text>
<text x="579.80" y="163.56" font-size="6.0" text-anchor="middle" fill="#282828">6</text>
<text x="611.20" y="163.56" font-size="6.0" text-anchor="middle" fill="#282828">8</text>
<text x="642.60" y="163.56" font-size="6.0" text-anchor="middle" fill="#282828">10</text>
<text x="674.00" y="163.56" font-size="6.0" text-anchor="middle" fill="#282828">12</text>
<path d="M501.30,126.90 L517.00,126.90 L532.70,126.59 L548.40,123.82 L564.10,120.12 L579.80,115.81 L595.50,106.88 L611.20,97.02 L626.90,102.88 L642.60,108.11 L658.30,125.36 L674.00,126.90" fill="none" stroke="#e03030" stroke-width="1.0" stroke-linejoin="round"/>
<text x="586.90" y="169.92" font-size="7.0" text-anchor="middle" fill="#282828">Month</text>
<text x="487.10" y="126.40" font-size="6.4" text-anchor="middle" fill="#282828" textLength="61.2" lengthAdjust="spacingAndGlyphs" transform="rotate(-90 487.10 126.40)">Precipitation (mm d<tspan font-size="4.2" dy="-2.4">-</tspan><tspan dy="2.4">1)</tspan></text>
<path d="M631.00,96.30 L642.00,96.30" fill="none" stroke="#e03030" stroke-width="1.0" stroke-linejoin="round"/>
<text x="643.00" y="98.17" font-size="5.2" text-anchor="start" fill="#282828">AFFO - CON</text>
<path d="M233.4,249.78000000000003 L233.4,308.3 L447.5333333333333,308.3" fill="none" stroke="#8a8a8a" stroke-width="0.9"/>
<path d="M233.4,308.30 h2.0" stroke="#8a8a8a" stroke-width="0.8"/>
<path d="M233.4,299.94 h2.0" stroke="#8a8a8a" stroke-width="0.8"/>
<path d="M233.4,291.58 h2.0" stroke="#8a8a8a" stroke-width="0.8"/>
<path d="M233.4,283.22 h2.0" stroke="#8a8a8a" stroke-width="0.8"/>
<path d="M233.4,274.86 h2.0" stroke="#8a8a8a" stroke-width="0.8"/>
<path d="M233.4,266.50 h2.0" stroke="#8a8a8a" stroke-width="0.8"/>
<path d="M233.4,258.14 h2.0" stroke="#8a8a8a" stroke-width="0.8"/>
<path d="M233.4,249.78 h2.0" stroke="#8a8a8a" stroke-width="0.8"/>
<text x="231.20" y="310.68" font-size="6.6" text-anchor="end" fill="#282828">20</text>
<text x="231.20" y="293.96" font-size="6.6" text-anchor="end" fill="#282828">24</text>
<text x="231.20" y="277.24" font-size="6.6" text-anchor="end" fill="#282828">28</text>
<text x="231.20" y="260.52" font-size="6.6" text-anchor="end" fill="#282828">32</text>
<path d="M233.40,308.3 v-2.2" stroke="#8a8a8a" stroke-width="0.7"/>
<path d="M238.27,308.3 v-2.2" stroke="#8a8a8a" stroke-width="0.7"/>
<path d="M243.13,308.3 v-2.2" stroke="#8a8a8a" stroke-width="0.7"/>
<path d="M248.00,308.3 v-2.2" stroke="#8a8a8a" stroke-width="0.7"/>
<path d="M252.87,308.3 v-2.2" stroke="#8a8a8a" stroke-width="0.7"/>
<path d="M257.73,308.3 v-2.2" stroke="#8a8a8a" stroke-width="0.7"/>
<path d="M262.60,308.3 v-2.2" stroke="#8a8a8a" stroke-width="0.7"/>
<path d="M267.47,308.3 v-2.2" stroke="#8a8a8a" stroke-width="0.7"/>
<path d="M272.33,308.3 v-2.2" stroke="#8a8a8a" stroke-width="0.7"/>
<path d="M277.20,308.3 v-2.2" stroke="#8a8a8a" stroke-width="0.7"/>
<path d="M282.07,308.3 v-2.2" stroke="#8a8a8a" stroke-width="0.7"/>
<path d="M286.93,308.3 v-2.2" stroke="#8a8a8a" stroke-width="0.7"/>
<path d="M291.80,308.3 v-2.2" stroke="#8a8a8a" stroke-width="0.7"/>
<path d="M296.67,308.3 v-2.2" stroke="#8a8a8a" stroke-width="0.7"/>
<path d="M301.53,308.3 v-2.2" stroke="#8a8a8a" stroke-width="0.7"/>
<path d="M306.40,308.3 v-2.2" stroke="#8a8a8a" stroke-width="0.7"/>
<path d="M311.27,308.3 v-2.2" stroke="#8a8a8a" stroke-width="0.7"/>
<path d="M316.13,308.3 v-2.2" stroke="#8a8a8a" stroke-width="0.7"/>
<path d="M321.00,308.3 v-2.2" stroke="#8a8a8a" stroke-width="0.7"/>
<path d="M325.87,308.3 v-2.2" stroke="#8a8a8a" stroke-width="0.7"/>
<path d="M330.73,308.3 v-2.2" stroke="#8a8a8a" stroke-width="0.7"/>
<path d="M335.60,308.3 v-2.2" stroke="#8a8a8a" stroke-width="0.7"/>
<path d="M340.47,308.3 v-2.2" stroke="#8a8a8a" stroke-width="0.7"/>
<path d="M345.33,308.3 v-2.2" stroke="#8a8a8a" stroke-width="0.7"/>
<path d="M350.20,308.3 v-2.2" stroke="#8a8a8a" stroke-width="0.7"/>
<path d="M355.07,308.3 v-2.2" stroke="#8a8a8a" stroke-width="0.7"/>
<path d="M359.93,308.3 v-2.2" stroke="#8a8a8a" stroke-width="0.7"/>
<path d="M364.80,308.3 v-2.2" stroke="#8a8a8a" stroke-width="0.7"/>
<path d="M369.67,308.3 v-2.2" stroke="#8a8a8a" stroke-width="0.7"/>
<path d="M374.53,308.3 v-2.2" stroke="#8a8a8a" stroke-width="0.7"/>
<path d="M379.40,308.3 v-2.2" stroke="#8a8a8a" stroke-width="0.7"/>
<path d="M384.27,308.3 v-2.2" stroke="#8a8a8a" stroke-width="0.7"/>
<path d="M389.13,308.3 v-2.2" stroke="#8a8a8a" stroke-width="0.7"/>
<path d="M394.00,308.3 v-2.2" stroke="#8a8a8a" stroke-width="0.7"/>
<path d="M398.87,308.3 v-2.2" stroke="#8a8a8a" stroke-width="0.7"/>
<path d="M403.73,308.3 v-2.2" stroke="#8a8a8a" stroke-width="0.7"/>
<path d="M408.60,308.3 v-2.2" stroke="#8a8a8a" stroke-width="0.7"/>
<path d="M413.47,308.3 v-2.2" stroke="#8a8a8a" stroke-width="0.7"/>
<path d="M418.33,308.3 v-2.2" stroke="#8a8a8a" stroke-width="0.7"/>
<path d="M423.20,308.3 v-2.2" stroke="#8a8a8a" stroke-width="0.7"/>
<path d="M428.07,308.3 v-2.2" stroke="#8a8a8a" stroke-width="0.7"/>
<path d="M432.93,308.3 v-2.2" stroke="#8a8a8a" stroke-width="0.7"/>
<path d="M437.80,308.3 v-2.2" stroke="#8a8a8a" stroke-width="0.7"/>
<path d="M442.67,308.3 v-2.2" stroke="#8a8a8a" stroke-width="0.7"/>
<path d="M447.53,308.3 v-2.2" stroke="#8a8a8a" stroke-width="0.7"/>
<text x="233.40" y="314.78" font-size="6.6" text-anchor="middle" fill="#282828">98</text>
<text x="248.00" y="314.78" font-size="6.6" text-anchor="middle" fill="#282828">99</text>
<text x="262.60" y="314.78" font-size="6.6" text-anchor="middle" fill="#282828">00</text>
<text x="277.20" y="314.78" font-size="6.6" text-anchor="middle" fill="#282828">01</text>
<text x="291.80" y="314.78" font-size="6.6" text-anchor="middle" fill="#282828">02</text>
<text x="306.40" y="314.78" font-size="6.6" text-anchor="middle" fill="#282828">03</text>
<text x="321.00" y="314.78" font-size="6.6" text-anchor="middle" fill="#282828">04</text>
<text x="335.60" y="314.78" font-size="6.6" text-anchor="middle" fill="#282828">05</text>
<text x="350.20" y="314.78" font-size="6.6" text-anchor="middle" fill="#282828">06</text>
<text x="364.80" y="314.78" font-size="6.6" text-anchor="middle" fill="#282828">07</text>
<text x="379.40" y="314.78" font-size="6.6" text-anchor="middle" fill="#282828">08</text>
<text x="394.00" y="314.78" font-size="6.6" text-anchor="middle" fill="#282828">09</text>
<text x="408.60" y="314.78" font-size="6.6" text-anchor="middle" fill="#282828">10</text>
<text x="423.20" y="314.78" font-size="6.6" text-anchor="middle" fill="#282828">11</text>
<text x="437.80" y="314.78" font-size="6.6" text-anchor="middle" fill="#282828">12</text>
<path d="M233.40,275.28 L238.27,283.22 L243.13,282.38" fill="none" stroke="#555" stroke-width="0.7" stroke-dasharray="1.2,0.8" stroke-linejoin="round"/>
<path d="M248.00,282.18 L252.87,288.24 L257.73,284.26" fill="none" stroke="#555" stroke-width="0.7" stroke-dasharray="1.2,0.8" stroke-linejoin="round"/>
<path d="M262.60,281.55 L267.47,284.47 L272.33,281.55" fill="none" stroke="#555" stroke-width="0.7" stroke-dasharray="1.2,0.8" stroke-linejoin="round"/>
<path d="M277.20,281.13 L282.07,285.31 L286.93,283.64" fill="none" stroke="#555" stroke-width="0.7" stroke-dasharray="1.2,0.8" stroke-linejoin="round"/>
<path d="M291.80,278.20 L296.67,283.22 L301.53,281.13" fill="none" stroke="#555" stroke-width="0.7" stroke-dasharray="1.2,0.8" stroke-linejoin="round"/>
<path d="M306.40,280.71 L311.27,285.31 L316.13,281.97" fill="none" stroke="#555" stroke-width="0.7" stroke-dasharray="1.2,0.8" stroke-linejoin="round"/>
<path d="M321.00,279.88 L325.87,283.22 L330.73,280.71" fill="none" stroke="#555" stroke-width="0.7" stroke-dasharray="1.2,0.8" stroke-linejoin="round"/>
<path d="M335.60,281.13 L340.47,284.47 L345.33,281.97" fill="none" stroke="#555" stroke-width="0.7" stroke-dasharray="1.2,0.8" stroke-linejoin="round"/>
<path d="M350.20,276.11 L355.07,283.22 L359.93,283.22" fill="none" stroke="#555" stroke-width="0.7" stroke-dasharray="1.2,0.8" stroke-linejoin="round"/>
<path d="M364.80,280.29 L369.67,286.15 L374.53,283.22" fill="none" stroke="#555" stroke-width="0.7" stroke-dasharray="1.2,0.8" stroke-linejoin="round"/>
<path d="M379.40,280.29 L384.27,285.73 L389.13,281.55" fill="none" stroke="#555" stroke-width="0.7" stroke-dasharray="1.2,0.8" stroke-linejoin="round"/>
<path d="M394.00,279.88 L398.87,284.89 L403.73,282.80" fill="none" stroke="#555" stroke-width="0.7" stroke-dasharray="1.2,0.8" stroke-linejoin="round"/>
<path d="M408.60,282.80 L413.47,284.06 L418.33,284.89" fill="none" stroke="#555" stroke-width="0.7" stroke-dasharray="1.2,0.8" stroke-linejoin="round"/>
<path d="M423.20,280.29 L428.07,284.89 L432.93,282.80" fill="none" stroke="#555" stroke-width="0.7" stroke-dasharray="1.2,0.8" stroke-linejoin="round"/>
<path d="M437.80,284.06 L442.67,286.56 L447.53,284.89" fill="none" stroke="#555" stroke-width="0.7" stroke-dasharray="1.2,0.8" stroke-linejoin="round"/>
<path d="M233.40,272.77 L238.27,280.29 L243.13,280.71" fill="none" stroke="#111" stroke-width="0.9" stroke-linejoin="round"/>
<path d="M248.00,279.25 L252.87,284.26 L257.73,280.29" fill="none" stroke="#111" stroke-width="0.9" stroke-linejoin="round"/>
<path d="M262.60,277.16 L267.47,280.29 L272.33,277.16" fill="none" stroke="#111" stroke-width="0.9" stroke-linejoin="round"/>
<path d="M277.20,276.95 L282.07,280.71 L286.93,279.67" fill="none" stroke="#111" stroke-width="0.9" stroke-linejoin="round"/>
<path d="M291.80,272.98 L296.67,277.79 L301.53,276.74" fill="none" stroke="#111" stroke-width="0.9" stroke-linejoin="round"/>
<path d="M306.40,277.16 L311.27,280.71 L316.13,277.79" fill="none" stroke="#111" stroke-width="0.9" stroke-linejoin="round"/>
<path d="M321.00,275.28 L325.87,278.20 L330.73,275.28" fill="none" stroke="#111" stroke-width="0.9" stroke-linejoin="round"/>
<path d="M335.60,275.70 L340.47,279.04 L345.33,276.53" fill="none" stroke="#111" stroke-width="0.9" stroke-linejoin="round"/>
<path d="M350.20,272.77 L355.07,279.04 L359.93,277.79" fill="none" stroke="#111" stroke-width="0.9" stroke-linejoin="round"/>
<path d="M364.80,276.53 L369.67,280.29 L374.53,276.53" fill="none" stroke="#111" stroke-width="0.9" stroke-linejoin="round"/>
<path d="M379.40,276.53 L384.27,279.88 L389.13,276.53" fill="none" stroke="#111" stroke-width="0.9" stroke-linejoin="round"/>
<path d="M394.00,273.61 L398.87,277.79 L403.73,274.44" fill="none" stroke="#111" stroke-width="0.9" stroke-linejoin="round"/>
<path d="M408.60,275.28 L413.47,279.88 L418.33,276.95" fill="none" stroke="#111" stroke-width="0.9" stroke-linejoin="round"/>
<path d="M423.20,271.93 L428.07,278.20 L432.93,276.53" fill="none" stroke="#111" stroke-width="0.9" stroke-linejoin="round"/>
<path d="M437.80,277.37 L442.67,281.55 L447.53,277.37" fill="none" stroke="#111" stroke-width="0.9" stroke-linejoin="round"/>
<path d="M233.40,277.79 L238.27,287.82 L243.13,288.86" fill="none" stroke="#1a1ad8" stroke-width="1.0" stroke-linejoin="round"/>
<circle cx="233.40" cy="277.79" r="1.45" fill="#1a1ad8"/>
<circle cx="238.27" cy="287.82" r="1.45" fill="#1a1ad8"/>
<circle cx="243.13" cy="288.86" r="1.45" fill="#1a1ad8"/>
<path d="M248.00,289.91 L252.87,295.34 L257.73,289.28" fill="none" stroke="#1a1ad8" stroke-width="1.0" stroke-linejoin="round"/>
<circle cx="248.00" cy="289.91" r="1.45" fill="#1a1ad8"/>
<circle cx="252.87" cy="295.34" r="1.45" fill="#1a1ad8"/>
<circle cx="257.73" cy="289.28" r="1.45" fill="#1a1ad8"/>
<path d="M262.60,289.28 L267.47,294.72 L272.33,291.58" fill="none" stroke="#1a1ad8" stroke-width="1.0" stroke-linejoin="round"/>
<circle cx="262.60" cy="289.28" r="1.45" fill="#1a1ad8"/>
<circle cx="267.47" cy="294.72" r="1.45" fill="#1a1ad8"/>
<circle cx="272.33" cy="291.58" r="1.45" fill="#1a1ad8"/>
<path d="M277.20,285.73 L282.07,293.25 L286.93,295.34" fill="none" stroke="#1a1ad8" stroke-width="1.0" stroke-linejoin="round"/>
<circle cx="277.20" cy="285.73" r="1.45" fill="#1a1ad8"/>
<circle cx="282.07" cy="293.25" r="1.45" fill="#1a1ad8"/>
<circle cx="286.93" cy="295.34" r="1.45" fill="#1a1ad8"/>
<path d="M291.80,283.64 L296.67,292.62 L301.53,285.73" fill="none" stroke="#1a1ad8" stroke-width="1.0" stroke-linejoin="round"/>
<circle cx="291.80" cy="283.64" r="1.45" fill="#1a1ad8"/>
<circle cx="296.67" cy="292.62" r="1.45" fill="#1a1ad8"/>
<circle cx="301.53" cy="285.73" r="1.45" fill="#1a1ad8"/>
<path d="M306.40,288.24 L311.27,295.76 L316.13,292.62" fill="none" stroke="#1a1ad8" stroke-width="1.0" stroke-linejoin="round"/>
<circle cx="306.40" cy="288.24" r="1.45" fill="#1a1ad8"/>
<circle cx="311.27" cy="295.76" r="1.45" fill="#1a1ad8"/>
<circle cx="316.13" cy="292.62" r="1.45" fill="#1a1ad8"/>
<path d="M321.00,287.40 L325.87,294.72 L330.73,290.74" fill="none" stroke="#1a1ad8" stroke-width="1.0" stroke-linejoin="round"/>
<circle cx="321.00" cy="287.40" r="1.45" fill="#1a1ad8"/>
<circle cx="325.87" cy="294.72" r="1.45" fill="#1a1ad8"/>
<circle cx="330.73" cy="290.74" r="1.45" fill="#1a1ad8"/>
<path d="M335.60,280.71 L340.47,287.82 L345.33,292.00" fill="none" stroke="#1a1ad8" stroke-width="1.0" stroke-linejoin="round"/>
<circle cx="335.60" cy="280.71" r="1.45" fill="#1a1ad8"/>
<circle cx="340.47" cy="287.82" r="1.45" fill="#1a1ad8"/>
<circle cx="345.33" cy="292.00" r="1.45" fill="#1a1ad8"/>
<path d="M350.20,290.74 L355.07,290.74 L359.93,286.56" fill="none" stroke="#1a1ad8" stroke-width="1.0" stroke-linejoin="round"/>
<circle cx="350.20" cy="290.74" r="1.45" fill="#1a1ad8"/>
<circle cx="355.07" cy="290.74" r="1.45" fill="#1a1ad8"/>
<circle cx="359.93" cy="286.56" r="1.45" fill="#1a1ad8"/>
<path d="M364.80,282.80 L369.67,292.21 L374.53,288.86" fill="none" stroke="#1a1ad8" stroke-width="1.0" stroke-linejoin="round"/>
<circle cx="364.80" cy="282.80" r="1.45" fill="#1a1ad8"/>
<circle cx="369.67" cy="292.21" r="1.45" fill="#1a1ad8"/>
<circle cx="374.53" cy="288.86" r="1.45" fill="#1a1ad8"/>
<path d="M379.40,290.74 L384.27,292.21 L389.13,287.82" fill="none" stroke="#1a1ad8" stroke-width="1.0" stroke-linejoin="round"/>
<circle cx="379.40" cy="290.74" r="1.45" fill="#1a1ad8"/>
<circle cx="384.27" cy="292.21" r="1.45" fill="#1a1ad8"/>
<circle cx="389.13" cy="287.82" r="1.45" fill="#1a1ad8"/>
<path d="M394.00,291.79 L398.87,292.21 L403.73,285.31" fill="none" stroke="#1a1ad8" stroke-width="1.0" stroke-linejoin="round"/>
<circle cx="394.00" cy="291.79" r="1.45" fill="#1a1ad8"/>
<circle cx="398.87" cy="292.21" r="1.45" fill="#1a1ad8"/>
<circle cx="403.73" cy="285.31" r="1.45" fill="#1a1ad8"/>
<path d="M408.60,283.22 L413.47,286.15 L418.33,289.07" fill="none" stroke="#1a1ad8" stroke-width="1.0" stroke-linejoin="round"/>
<circle cx="408.60" cy="283.22" r="1.45" fill="#1a1ad8"/>
<circle cx="413.47" cy="286.15" r="1.45" fill="#1a1ad8"/>
<circle cx="418.33" cy="289.07" r="1.45" fill="#1a1ad8"/>
<path d="M423.20,280.71 L428.07,288.65 L432.93,289.07" fill="none" stroke="#1a1ad8" stroke-width="1.0" stroke-linejoin="round"/>
<circle cx="423.20" cy="280.71" r="1.45" fill="#1a1ad8"/>
<circle cx="428.07" cy="288.65" r="1.45" fill="#1a1ad8"/>
<circle cx="432.93" cy="289.07" r="1.45" fill="#1a1ad8"/>
<path d="M437.80,284.26 L442.67,297.01 L447.53,298.27" fill="none" stroke="#1a1ad8" stroke-width="1.0" stroke-linejoin="round"/>
<circle cx="437.80" cy="284.26" r="1.45" fill="#1a1ad8"/>
<circle cx="442.67" cy="297.01" r="1.45" fill="#1a1ad8"/>
<circle cx="447.53" cy="298.27" r="1.45" fill="#1a1ad8"/>
<text x="340.00" y="246.70" font-size="6.6" text-anchor="middle" fill="#000" font-weight="bold" textLength="31.9" lengthAdjust="spacingAndGlyphs">SAT in JAS</text>
<text x="339.90" y="322.09" font-size="7.2" text-anchor="middle" fill="#282828">year</text>
<text x="221.55" y="279.00" font-size="6.8" text-anchor="middle" fill="#282828" textLength="26.5" lengthAdjust="spacingAndGlyphs" transform="rotate(-90 221.55 279.00)">SAT (<tspan font-size="4.2" dy="-2.6">o</tspan><tspan dy="2.6">C)</tspan></text>
<path d="M426.40,248.20 L438.70,248.20" fill="none" stroke="#222" stroke-width="1.0" stroke-linejoin="round"/>
<path d="M426.40,253.50 L438.70,253.50" fill="none" stroke="#555" stroke-width="0.7" stroke-dasharray="1.2,0.8" stroke-linejoin="round"/>
<path d="M426.40,258.60 L438.70,258.60" fill="none" stroke="#1a1ad8" stroke-width="1.0" stroke-linejoin="round"/>
<circle cx="432.50" cy="258.60" r="1.45" fill="#1a1ad8"/>
<text x="440.10" y="250.14" font-size="5.4" text-anchor="start" fill="#282828">CRU</text>
<text x="440.10" y="255.44" font-size="5.4" text-anchor="start" fill="#282828">NCEP</text>
<text x="440.10" y="260.54" font-size="5.4" text-anchor="start" fill="#282828">CON</text>
<path d="M233.4,360.10 L446.03,360.10" stroke="#888" stroke-width="0.75" stroke-dasharray="4,2.1"/>
<path d="M233.4,331.24 L233.4,388.96000000000004 L447.5333333333333,388.96000000000004" fill="none" stroke="#8a8a8a" stroke-width="0.9"/>
<path d="M233.4,388.96 h2.0" stroke="#8a8a8a" stroke-width="0.8"/>
<path d="M233.4,379.34 h2.0" stroke="#8a8a8a" stroke-width="0.8"/>
<path d="M233.4,369.72 h2.0" stroke="#8a8a8a" stroke-width="0.8"/>
<path d="M233.4,360.10 h2.0" stroke="#8a8a8a" stroke-width="0.8"/>
<path d="M233.4,350.48 h2.0" stroke="#8a8a8a" stroke-width="0.8"/>
<path d="M233.4,340.86 h2.0" stroke="#8a8a8a" stroke-width="0.8"/>
<path d="M233.4,331.24 h2.0" stroke="#8a8a8a" stroke-width="0.8"/>
<text x="231.20" y="391.34" font-size="6.6" text-anchor="end" fill="#282828">-3</text>
<text x="231.20" y="381.72" font-size="6.6" text-anchor="end" fill="#282828">-2</text>
<text x="231.20" y="372.10" font-size="6.6" text-anchor="end" fill="#282828">-1</text>
<text x="231.20" y="362.48" font-size="6.6" text-anchor="end" fill="#282828">0</text>
<text x="231.20" y="352.86" font-size="6.6" text-anchor="end" fill="#282828">1</text>
<text x="231.20" y="343.24" font-size="6.6" text-anchor="end" fill="#282828">2</text>
<text x="231.20" y="333.62" font-size="6.6" text-anchor="end" fill="#282828">3</text>
<path d="M233.40,388.96000000000004 v-2.2" stroke="#8a8a8a" stroke-width="0.7"/>
<path d="M238.27,388.96000000000004 v-2.2" stroke="#8a8a8a" stroke-width="0.7"/>
<path d="M243.13,388.96000000000004 v-2.2" stroke="#8a8a8a" stroke-width="0.7"/>
<path d="M248.00,388.96000000000004 v-2.2" stroke="#8a8a8a" stroke-width="0.7"/>
<path d="M252.87,388.96000000000004 v-2.2" stroke="#8a8a8a" stroke-width="0.7"/>
<path d="M257.73,388.96000000000004 v-2.2" stroke="#8a8a8a" stroke-width="0.7"/>
<path d="M262.60,388.96000000000004 v-2.2" stroke="#8a8a8a" stroke-width="0.7"/>
<path d="M267.47,388.96000000000004 v-2.2" stroke="#8a8a8a" stroke-width="0.7"/>
<path d="M272.33,388.96000000000004 v-2.2" stroke="#8a8a8a" stroke-width="0.7"/>
<path d="M277.20,388.96000000000004 v-2.2" stroke="#8a8a8a" stroke-width="0.7"/>
<path d="M282.07,388.96000000000004 v-2.2" stroke="#8a8a8a" stroke-width="0.7"/>
<path d="M286.93,388.96000000000004 v-2.2" stroke="#8a8a8a" stroke-width="0.7"/>
<path d="M291.80,388.96000000000004 v-2.2" stroke="#8a8a8a" stroke-width="0.7"/>
<path d="M296.67,388.96000000000004 v-2.2" stroke="#8a8a8a" stroke-width="0.7"/>
<path d="M301.53,388.96000000000004 v-2.2" stroke="#8a8a8a" stroke-width="0.7"/>
<path d="M306.40,388.96000000000004 v-2.2" stroke="#8a8a8a" stroke-width="0.7"/>
<path d="M311.27,388.96000000000004 v-2.2" stroke="#8a8a8a" stroke-width="0.7"/>
<path d="M316.13,388.96000000000004 v-2.2" stroke="#8a8a8a" stroke-width="0.7"/>
<path d="M321.00,388.96000000000004 v-2.2" stroke="#8a8a8a" stroke-width="0.7"/>
<path d="M325.87,388.96000000000004 v-2.2" stroke="#8a8a8a" stroke-width="0.7"/>
<path d="M330.73,388.96000000000004 v-2.2" stroke="#8a8a8a" stroke-width="0.7"/>
<path d="M335.60,388.96000000000004 v-2.2" stroke="#8a8a8a" stroke-width="0.7"/>
<path d="M340.47,388.96000000000004 v-2.2" stroke="#8a8a8a" stroke-width="0.7"/>
<path d="M345.33,388.96000000000004 v-2.2" stroke="#8a8a8a" stroke-width="0.7"/>
<path d="M350.20,388.96000000000004 v-2.2" stroke="#8a8a8a" stroke-width="0.7"/>
<path d="M355.07,388.96000000000004 v-2.2" stroke="#8a8a8a" stroke-width="0.7"/>
<path d="M359.93,388.96000000000004 v-2.2" stroke="#8a8a8a" stroke-width="0.7"/>
<path d="M364.80,388.96000000000004 v-2.2" stroke="#8a8a8a" stroke-width="0.7"/>
<path d="M369.67,388.96000000000004 v-2.2" stroke="#8a8a8a" stroke-width="0.7"/>
<path d="M374.53,388.96000000000004 v-2.2" stroke="#8a8a8a" stroke-width="0.7"/>
<path d="M379.40,388.96000000000004 v-2.2" stroke="#8a8a8a" stroke-width="0.7"/>
<path d="M384.27,388.96000000000004 v-2.2" stroke="#8a8a8a" stroke-width="0.7"/>
<path d="M389.13,388.96000000000004 v-2.2" stroke="#8a8a8a" stroke-width="0.7"/>
<path d="M394.00,388.96000000000004 v-2.2" stroke="#8a8a8a" stroke-width="0.7"/>
<path d="M398.87,388.96000000000004 v-2.2" stroke="#8a8a8a" stroke-width="0.7"/>
<path d="M403.73,388.96000000000004 v-2.2" stroke="#8a8a8a" stroke-width="0.7"/>
<path d="M408.60,388.96000000000004 v-2.2" stroke="#8a8a8a" stroke-width="0.7"/>
<path d="M413.47,388.96000000000004 v-2.2" stroke="#8a8a8a" stroke-width="0.7"/>
<path d="M418.33,388.96000000000004 v-2.2" stroke="#8a8a8a" stroke-width="0.7"/>
<path d="M423.20,388.96000000000004 v-2.2" stroke="#8a8a8a" stroke-width="0.7"/>
<path d="M428.07,388.96000000000004 v-2.2" stroke="#8a8a8a" stroke-width="0.7"/>
<path d="M432.93,388.96000000000004 v-2.2" stroke="#8a8a8a" stroke-width="0.7"/>
<path d="M437.80,388.96000000000004 v-2.2" stroke="#8a8a8a" stroke-width="0.7"/>
<path d="M442.67,388.96000000000004 v-2.2" stroke="#8a8a8a" stroke-width="0.7"/>
<path d="M447.53,388.96000000000004 v-2.2" stroke="#8a8a8a" stroke-width="0.7"/>
<text x="233.40" y="395.98" font-size="6.6" text-anchor="middle" fill="#282828">98</text>
<text x="248.00" y="395.98" font-size="6.6" text-anchor="middle" fill="#282828">99</text>
<text x="262.60" y="395.98" font-size="6.6" text-anchor="middle" fill="#282828">00</text>
<text x="277.20" y="395.98" font-size="6.6" text-anchor="middle" fill="#282828">01</text>
<text x="291.80" y="395.98" font-size="6.6" text-anchor="middle" fill="#282828">02</text>
<text x="306.40" y="395.98" font-size="6.6" text-anchor="middle" fill="#282828">03</text>
<text x="321.00" y="395.98" font-size="6.6" text-anchor="middle" fill="#282828">04</text>
<text x="335.60" y="395.98" font-size="6.6" text-anchor="middle" fill="#282828">05</text>
<text x="350.20" y="395.98" font-size="6.6" text-anchor="middle" fill="#282828">06</text>
<text x="364.80" y="395.98" font-size="6.6" text-anchor="middle" fill="#282828">07</text>
<text x="379.40" y="395.98" font-size="6.6" text-anchor="middle" fill="#282828">08</text>
<text x="394.00" y="395.98" font-size="6.6" text-anchor="middle" fill="#282828">09</text>
<text x="408.60" y="395.98" font-size="6.6" text-anchor="middle" fill="#282828">10</text>
<text x="423.20" y="395.98" font-size="6.6" text-anchor="middle" fill="#282828">11</text>
<text x="437.80" y="395.98" font-size="6.6" text-anchor="middle" fill="#282828">12</text>
<path d="M233.40,383.19 L238.27,371.64 L243.13,367.31" fill="none" stroke="#e01818" stroke-width="0.9" stroke-linejoin="round"/>
<circle cx="233.40" cy="383.19" r="1.35" fill="#e01818"/>
<circle cx="238.27" cy="371.64" r="1.35" fill="#e01818"/>
<circle cx="243.13" cy="367.31" r="1.35" fill="#e01818"/>
<path d="M248.00,366.83 L252.87,362.99 L257.73,369.72" fill="none" stroke="#e01818" stroke-width="0.9" stroke-linejoin="round"/>
<circle cx="248.00" cy="366.83" r="1.35" fill="#e01818"/>
<circle cx="252.87" cy="362.99" r="1.35" fill="#e01818"/>
<circle cx="257.73" cy="369.72" r="1.35" fill="#e01818"/>
<path d="M262.60,384.63 L267.47,370.68 L272.33,377.42" fill="none" stroke="#e01818" stroke-width="0.9" stroke-linejoin="round"/>
<circle cx="262.60" cy="384.63" r="1.35" fill="#e01818"/>
<circle cx="267.47" cy="370.68" r="1.35" fill="#e01818"/>
<circle cx="272.33" cy="377.42" r="1.35" fill="#e01818"/>
<path d="M277.20,367.31 L282.07,367.80 L286.93,355.29" fill="none" stroke="#e01818" stroke-width="0.9" stroke-linejoin="round"/>
<circle cx="277.20" cy="367.31" r="1.35" fill="#e01818"/>
<circle cx="282.07" cy="367.80" r="1.35" fill="#e01818"/>
<circle cx="286.93" cy="355.29" r="1.35" fill="#e01818"/>
<path d="M291.80,370.20 L296.67,376.45 L301.53,379.34" fill="none" stroke="#e01818" stroke-width="0.9" stroke-linejoin="round"/>
<circle cx="291.80" cy="370.20" r="1.35" fill="#e01818"/>
<circle cx="296.67" cy="376.45" r="1.35" fill="#e01818"/>
<circle cx="301.53" cy="379.34" r="1.35" fill="#e01818"/>
<path d="M306.40,380.30 L311.27,369.72 L316.13,376.45" fill="none" stroke="#e01818" stroke-width="0.9" stroke-linejoin="round"/>
<circle cx="306.40" cy="380.30" r="1.35" fill="#e01818"/>
<circle cx="311.27" cy="369.72" r="1.35" fill="#e01818"/>
<circle cx="316.13" cy="376.45" r="1.35" fill="#e01818"/>
<path d="M321.00,382.71 L325.87,374.53 L330.73,379.34" fill="none" stroke="#e01818" stroke-width="0.9" stroke-linejoin="round"/>
<circle cx="321.00" cy="382.71" r="1.35" fill="#e01818"/>
<circle cx="325.87" cy="374.53" r="1.35" fill="#e01818"/>
<circle cx="330.73" cy="379.34" r="1.35" fill="#e01818"/>
<path d="M335.60,386.07 L340.47,384.63 L345.33,363.95" fill="none" stroke="#e01818" stroke-width="0.9" stroke-linejoin="round"/>
<circle cx="335.60" cy="386.07" r="1.35" fill="#e01818"/>
<circle cx="340.47" cy="384.63" r="1.35" fill="#e01818"/>
<circle cx="345.33" cy="363.95" r="1.35" fill="#e01818"/>
<path d="M350.20,364.91 L355.07,375.01 L359.93,388.96" fill="none" stroke="#e01818" stroke-width="0.9" stroke-linejoin="round"/>
<circle cx="350.20" cy="364.91" r="1.35" fill="#e01818"/>
<circle cx="355.07" cy="375.01" r="1.35" fill="#e01818"/>
<circle cx="359.93" cy="388.96" r="1.35" fill="#e01818"/>
<path d="M364.80,371.64 L369.67,370.20 L374.53,375.97" fill="none" stroke="#e01818" stroke-width="0.9" stroke-linejoin="round"/>
<circle cx="364.80" cy="371.64" r="1.35" fill="#e01818"/>
<circle cx="369.67" cy="370.20" r="1.35" fill="#e01818"/>
<circle cx="374.53" cy="375.97" r="1.35" fill="#e01818"/>
<path d="M379.40,365.39 L384.27,370.20 L389.13,379.34" fill="none" stroke="#e01818" stroke-width="0.9" stroke-linejoin="round"/>
<circle cx="379.40" cy="365.39" r="1.35" fill="#e01818"/>
<circle cx="384.27" cy="370.20" r="1.35" fill="#e01818"/>
<circle cx="389.13" cy="379.34" r="1.35" fill="#e01818"/>
<path d="M394.00,350.96 L398.87,369.72 L403.73,377.42" fill="none" stroke="#e01818" stroke-width="0.9" stroke-linejoin="round"/>
<circle cx="394.00" cy="350.96" r="1.35" fill="#e01818"/>
<circle cx="398.87" cy="369.72" r="1.35" fill="#e01818"/>
<circle cx="403.73" cy="377.42" r="1.35" fill="#e01818"/>
<path d="M408.60,367.80 L413.47,378.38 L418.33,369.72" fill="none" stroke="#e01818" stroke-width="0.9" stroke-linejoin="round"/>
<circle cx="408.60" cy="367.80" r="1.35" fill="#e01818"/>
<circle cx="413.47" cy="378.38" r="1.35" fill="#e01818"/>
<circle cx="418.33" cy="369.72" r="1.35" fill="#e01818"/>
<path d="M423.20,384.15 L428.07,375.01 L432.93,372.61" fill="none" stroke="#e01818" stroke-width="0.9" stroke-linejoin="round"/>
<circle cx="423.20" cy="384.15" r="1.35" fill="#e01818"/>
<circle cx="428.07" cy="375.01" r="1.35" fill="#e01818"/>
<circle cx="432.93" cy="372.61" r="1.35" fill="#e01818"/>
<path d="M437.80,366.83 L442.67,352.40 L447.53,346.63" fill="none" stroke="#e01818" stroke-width="0.9" stroke-linejoin="round"/>
<circle cx="437.80" cy="366.83" r="1.35" fill="#e01818"/>
<circle cx="442.67" cy="352.40" r="1.35" fill="#e01818"/>
<circle cx="447.53" cy="346.63" r="1.35" fill="#e01818"/>
<text x="339.90" y="403.29" font-size="7.2" text-anchor="middle" fill="#282828">year</text>
<text x="224.05" y="359.70" font-size="6.8" text-anchor="middle" fill="#282828" textLength="25.8" lengthAdjust="spacingAndGlyphs" transform="rotate(-90 224.05 359.70)">SAT (<tspan font-size="4.2" dy="-2.6">o</tspan><tspan dy="2.6">C)</tspan></text>
<path d="M405.10,335.80 L416.90,335.80" fill="none" stroke="#e01818" stroke-width="0.9" stroke-linejoin="round"/>
<circle cx="411.00" cy="335.80" r="1.35" fill="#e01818"/>
<text x="417.90" y="337.78" font-size="5.5" text-anchor="start" fill="#282828">AFFO - CON</text>
<path d="M502.3,246.50000000000003 L502.3,306.1 L670.27,306.1" fill="none" stroke="#8a8a8a" stroke-width="0.9"/>
<path d="M502.3,306.10 h2.0" stroke="#8a8a8a" stroke-width="0.8"/>
<path d="M502.3,291.20 h2.0" stroke="#8a8a8a" stroke-width="0.8"/>
<path d="M502.3,276.30 h2.0" stroke="#8a8a8a" stroke-width="0.8"/>
<path d="M502.3,261.40 h2.0" stroke="#8a8a8a" stroke-width="0.8"/>
<path d="M502.3,246.50 h2.0" stroke="#8a8a8a" stroke-width="0.8"/>
<text x="500.10" y="308.22" font-size="5.9" text-anchor="end" fill="#282828">15</text>
<text x="500.10" y="293.32" font-size="5.9" text-anchor="end" fill="#282828">20</text>
<text x="500.10" y="278.42" font-size="5.9" text-anchor="end" fill="#282828">25</text>
<text x="500.10" y="263.52" font-size="5.9" text-anchor="end" fill="#282828">30</text>
<text x="500.10" y="248.62" font-size="5.9" text-anchor="end" fill="#282828">35</text>
<path d="M517.57,306.1 v-2.0" stroke="#8a8a8a" stroke-width="0.8"/>
<path d="M548.11,306.1 v-2.0" stroke="#8a8a8a" stroke-width="0.8"/>
<path d="M578.65,306.1 v-2.0" stroke="#8a8a8a" stroke-width="0.8"/>
<path d="M609.19,306.1 v-2.0" stroke="#8a8a8a" stroke-width="0.8"/>
<path d="M639.73,306.1 v-2.0" stroke="#8a8a8a" stroke-width="0.8"/>
<path d="M670.27,306.1 v-2.0" stroke="#8a8a8a" stroke-width="0.8"/>
<text x="517.57" y="312.62" font-size="5.9" text-anchor="middle" fill="#282828">2</text>
<text x="548.11" y="312.62" font-size="5.9" text-anchor="middle" fill="#282828">4</text>
<text x="578.65" y="312.62" font-size="5.9" text-anchor="middle" fill="#282828">6</text>
<text x="609.19" y="312.62" font-size="5.9" text-anchor="middle" fill="#282828">8</text>
<text x="639.73" y="312.62" font-size="5.9" text-anchor="middle" fill="#282828">10</text>
<text x="670.27" y="312.62" font-size="5.9" text-anchor="middle" fill="#282828">12</text>
<path d="M502.30,280.17 L517.57,271.53 L532.84,264.38 L548.11,258.42 L563.38,258.42 L578.65,262.89 L593.92,268.85 L609.19,273.32 L624.46,273.62 L639.73,270.34 L655.00,273.32 L670.27,279.28" fill="none" stroke="#666" stroke-width="0.8" stroke-dasharray="1.2,0.8" stroke-linejoin="round"/>
<path d="M502.30,280.32 L517.57,271.38 L532.84,263.49 L548.11,256.33 L563.38,256.04 L578.65,260.80 L593.92,267.21 L609.19,270.79 L624.46,269.15 L639.73,266.17 L655.00,271.23 L670.27,277.34" fill="none" stroke="#111" stroke-width="1.0" stroke-dasharray="2.4,1.6" stroke-linejoin="round"/>
<circle cx="502.30" cy="280.32" r="1.15" fill="#777" stroke="#111" stroke-width="0.6"/>
<circle cx="517.57" cy="271.38" r="1.15" fill="#777" stroke="#111" stroke-width="0.6"/>
<circle cx="532.84" cy="263.49" r="1.15" fill="#777" stroke="#111" stroke-width="0.6"/>
<circle cx="548.11" cy="256.33" r="1.15" fill="#777" stroke="#111" stroke-width="0.6"/>
<circle cx="563.38" cy="256.04" r="1.15" fill="#777" stroke="#111" stroke-width="0.6"/>
<circle cx="578.65" cy="260.80" r="1.15" fill="#777" stroke="#111" stroke-width="0.6"/>
<circle cx="593.92" cy="267.21" r="1.15" fill="#777" stroke="#111" stroke-width="0.6"/>
<circle cx="609.19" cy="270.79" r="1.15" fill="#777" stroke="#111" stroke-width="0.6"/>
<circle cx="624.46" cy="269.15" r="1.15" fill="#777" stroke="#111" stroke-width="0.6"/>
<circle cx="639.73" cy="266.17" r="1.15" fill="#777" stroke="#111" stroke-width="0.6"/>
<circle cx="655.00" cy="271.23" r="1.15" fill="#777" stroke="#111" stroke-width="0.6"/>
<circle cx="670.27" cy="277.34" r="1.15" fill="#777" stroke="#111" stroke-width="0.6"/>
<path d="M502.30,293.29 L517.57,288.52 L532.84,280.17 L548.11,271.83 L563.38,267.36 L578.65,266.76 L593.92,270.34 L609.19,273.02 L624.46,273.17 L639.73,273.02 L655.00,283.15 L670.27,292.99" fill="none" stroke="#4848f0" stroke-width="0.8" stroke-linejoin="round"/>
<circle cx="502.30" cy="293.29" r="0.6" fill="#3030e0"/>
<circle cx="517.57" cy="288.52" r="0.6" fill="#3030e0"/>
<circle cx="532.84" cy="280.17" r="0.6" fill="#3030e0"/>
<circle cx="548.11" cy="271.83" r="0.6" fill="#3030e0"/>
<circle cx="563.38" cy="267.36" r="0.6" fill="#3030e0"/>
<circle cx="578.65" cy="266.76" r="0.6" fill="#3030e0"/>
<circle cx="593.92" cy="270.34" r="0.6" fill="#3030e0"/>
<circle cx="609.19" cy="273.02" r="0.6" fill="#3030e0"/>
<circle cx="624.46" cy="273.17" r="0.6" fill="#3030e0"/>
<circle cx="639.73" cy="273.02" r="0.6" fill="#3030e0"/>
<circle cx="655.00" cy="283.15" r="0.6" fill="#3030e0"/>
<circle cx="670.27" cy="292.99" r="0.6" fill="#3030e0"/>
<path d="M502.30,294.18 L517.57,289.11 L532.84,280.77 L548.11,272.13 L563.38,267.81 L578.65,269.15 L593.92,273.02 L609.19,276.30 L624.46,276.30 L639.73,276.30 L655.00,283.75 L670.27,292.99" fill="none" stroke="#f04858" stroke-width="0.8" stroke-linejoin="round"/>
<circle cx="502.30" cy="294.18" r="0.6" fill="#e03040"/>
<circle cx="517.57" cy="289.11" r="0.6" fill="#e03040"/>
<circle cx="532.84" cy="280.77" r="0.6" fill="#e03040"/>
<circle cx="548.11" cy="272.13" r="0.6" fill="#e03040"/>
<circle cx="563.38" cy="267.81" r="0.6" fill="#e03040"/>
<circle cx="578.65" cy="269.15" r="0.6" fill="#e03040"/>
<circle cx="593.92" cy="273.02" r="0.6" fill="#e03040"/>
<circle cx="609.19" cy="276.30" r="0.6" fill="#e03040"/>
<circle cx="624.46" cy="276.30" r="0.6" fill="#e03040"/>
<circle cx="639.73" cy="276.30" r="0.6" fill="#e03040"/>
<circle cx="655.00" cy="283.75" r="0.6" fill="#e03040"/>
<circle cx="670.27" cy="292.99" r="0.6" fill="#e03040"/>
<text x="586.30" y="244.70" font-size="6.4" text-anchor="middle" fill="#000" font-weight="bold" textLength="34.7" lengthAdjust="spacingAndGlyphs">Monthly SAT</text>
<text x="586.90" y="319.02" font-size="7.0" text-anchor="middle" fill="#282828">month</text>
<text x="491.98" y="276.20" font-size="6.6" text-anchor="middle" fill="#282828" textLength="24.8" lengthAdjust="spacingAndGlyphs" transform="rotate(-90 491.98 276.20)">SAT (<tspan font-size="4.2" dy="-2.6">o</tspan><tspan dy="2.6">C)</tspan></text>
<path d="M652.70,245.40 L663.50,245.40" fill="none" stroke="#111" stroke-width="1.0" stroke-dasharray="2.4,1.6" stroke-linejoin="round"/>
<circle cx="658.1" cy="245.4" r="1.15" fill="#fff" stroke="#111" stroke-width="0.6"/>
<path d="M652.70,251.00 L663.50,251.00" fill="none" stroke="#888" stroke-width="1.1" stroke-dasharray="1.2,0.8" stroke-linejoin="round"/>
<path d="M652.70,256.60 L663.50,256.60" fill="none" stroke="#4848f0" stroke-width="0.8" stroke-linejoin="round"/>
<path d="M652.70,262.10 L663.50,262.10" fill="none" stroke="#f04858" stroke-width="0.8" stroke-linejoin="round"/>
<text x="665.10" y="247.45" font-size="5.7" text-anchor="start" fill="#282828">CRU</text>
<text x="665.10" y="253.05" font-size="5.7" text-anchor="start" fill="#282828">NCEP</text>
<text x="665.10" y="258.65" font-size="5.7" text-anchor="start" fill="#282828">CON</text>
<text x="665.10" y="264.15" font-size="5.7" text-anchor="start" fill="#282828">AFFO</text>
<path d="M502.3,359.30 L671.77,359.30" stroke="#3a3a3a" stroke-width="0.75" stroke-dasharray="4,2.1"/>
<path d="M502.3,329.175 L502.3,389.425 L670.27,389.425" fill="none" stroke="#8a8a8a" stroke-width="0.9"/>
<path d="M502.3,383.40 h2.0" stroke="#8a8a8a" stroke-width="0.8"/>
<path d="M502.3,371.35 h2.0" stroke="#8a8a8a" stroke-width="0.8"/>
<path d="M502.3,359.30 h2.0" stroke="#8a8a8a" stroke-width="0.8"/>
<path d="M502.3,347.25 h2.0" stroke="#8a8a8a" stroke-width="0.8"/>
<path d="M502.3,335.20 h2.0" stroke="#8a8a8a" stroke-width="0.8"/>
<text x="500.10" y="385.52" font-size="5.9" text-anchor="end" fill="#282828">-2</text>
<text x="500.10" y="373.47" font-size="5.9" text-anchor="end" fill="#282828">-1</text>
<text x="500.10" y="361.42" font-size="5.9" text-anchor="end" fill="#282828">0</text>
<text x="500.10" y="349.37" font-size="5.9" text-anchor="end" fill="#282828">1</text>
<text x="500.10" y="337.32" font-size="5.9" text-anchor="end" fill="#282828">2</text>
<path d="M517.57,389.425 v-2.0" stroke="#8a8a8a" stroke-width="0.8"/>
<path d="M548.11,389.425 v-2.0" stroke="#8a8a8a" stroke-width="0.8"/>
<path d="M578.65,389.425 v-2.0" stroke="#8a8a8a" stroke-width="0.8"/>
<path d="M609.19,389.425 v-2.0" stroke="#8a8a8a" stroke-width="0.8"/>
<path d="M639.73,389.425 v-2.0" stroke="#8a8a8a" stroke-width="0.8"/>
<path d="M670.27,389.425 v-2.0" stroke="#8a8a8a" stroke-width="0.8"/>
<text x="517.57" y="395.22" font-size="5.9" text-anchor="middle" fill="#282828">2</text>
<text x="548.11" y="395.22" font-size="5.9" text-anchor="middle" fill="#282828">4</text>
<text x="578.65" y="395.22" font-size="5.9" text-anchor="middle" fill="#282828">6</text>
<text x="609.19" y="395.22" font-size="5.9" text-anchor="middle" fill="#282828">8</text>
<text x="639.73" y="395.22" font-size="5.9" text-anchor="middle" fill="#282828">10</text>
<text x="670.27" y="395.22" font-size="5.9" text-anchor="middle" fill="#282828">12</text>
<path d="M502.30,364.72 L517.57,363.28 L532.84,360.50 L548.11,362.07 L563.38,363.28 L578.65,369.30 L593.92,370.75 L609.19,372.56 L624.46,371.11 L639.73,370.15 L655.00,361.35 L670.27,363.28" fill="none" stroke="#e03040" stroke-width="0.9" stroke-linejoin="round"/>
<text x="586.90" y="402.02" font-size="7.0" text-anchor="middle" fill="#282828">month</text>
<text x="493.98" y="359.30" font-size="6.6" text-anchor="middle" fill="#282828" textLength="24.9" lengthAdjust="spacingAndGlyphs" transform="rotate(-90 493.98 359.30)">SAT (<tspan font-size="4.2" dy="-2.6">o</tspan><tspan dy="2.6">C)</tspan></text>
<path d="M636.50,336.30 L647.50,336.30" fill="none" stroke="#e03040" stroke-width="0.9" stroke-linejoin="round"/>
<text x="648.40" y="338.32" font-size="5.6" text-anchor="start" fill="#282828">AFFO - CON</text>
<defs>
<g id="coast"><path d="M-5.90,-35.80 L-5.30,-35.90 L-4.40,-35.20 L-2.20,-35.10 L-1.00,-35.70 L0.10,-35.90 L1.00,-36.50 L3.00,-36.80 L5.00,-36.80 L6.50,-37.10 L8.00,-36.90 L9.80,-37.30 L10.30,-36.90 L11.10,-37.10 L10.50,-36.20 L11.10,-35.20 L10.10,-34.30 L10.30,-33.80 L11.10,-33.30 L12.50,-32.80 L13.20,-32.90 L15.20,-32.40 L15.60,-31.50 L17.50,-31.00 L19.00,-30.30 L20.00,-30.90 L20.10,-32.10 L21.00,-32.80 L22.50,-32.80 L23.20,-32.20 L25.00,-31.70 L27.00,-31.40 L29.00,-30.90 L30.50,-31.50 L32.00,-31.20 L32.30,-31.30 L32.50,-30.00 L32.60,-29.90 L32.70,-29.30 L33.20,-28.50 L33.60,-27.90 L34.00,-27.00 L33.90,-26.50 L34.50,-25.50 L35.30,-24.00 L35.60,-23.10 L36.90,-22.00 L37.20,-21.00 L37.30,-19.50 L37.50,-18.50 L38.50,-18.00 L39.10,-16.50 L39.50,-15.50 L40.10,-15.00 L41.00,-14.20 L41.70,-13.40 L42.40,-12.50 L43.10,-12.70 L43.30,-11.90 L42.80,-11.50 L43.40,-11.30 L44.50,-10.40 L45.60,-10.70 L47.00,-11.10 L48.50,-11.30 L50.00,-11.50 L51.20,-11.80 L51.10,-10.50 L50.80,-9.50 L50.10,-8.00 L49.20,-6.50 L48.00,-4.50 L46.50,-2.50 L45.00,-1.80 L43.50,-0.70 L42.00,0.80 L41.00,2.00 L40.20,2.80 L39.70,4.00 L39.10,5.50 L38.80,6.50 L39.40,7.50 L39.30,8.50 L39.70,10.00 L40.40,10.50 L40.50,12.00 L40.60,14.00 L40.80,15.00 L39.80,16.50 L37.00,18.00 L35.50,19.50 L35.30,21.00 L35.50,22.50 L35.40,24.00 L33.00,25.50 L32.90,26.50 L32.50,28.50 L31.50,29.50 L30.50,31.00 L29.00,32.50 L27.50,33.30 L25.60,33.80 L23.50,34.00 L22.00,34.20 L20.00,34.80 L18.80,34.30 L18.40,34.20 L18.30,33.00 L17.90,32.00 L17.20,30.00 L16.50,28.60 L15.30,27.00 L14.90,26.00 L14.50,23.00 L14.40,22.50 L13.50,21.00 L12.50,19.00 L11.80,17.30 L11.80,16.00 L12.20,14.50 L13.00,13.00 L13.70,11.50 L13.20,9.50 L12.80,8.00 L12.30,6.10 L12.00,5.00 L11.10,3.90 L9.60,2.60 L9.00,1.00 L9.50,-1.00 L9.80,-2.50 L9.60,-3.70 L8.80,-4.50 L8.00,-4.40 L6.50,-4.30 L5.50,-5.50 L4.40,-6.30 L2.70,-6.30 L1.50,-6.10 L0.00,-5.70 L-2.00,-4.70 L-3.50,-5.10 L-5.00,-5.10 L-7.50,-4.40 L-9.00,-4.80 L-11.00,-6.50 L-12.50,-7.50 L-13.20,-8.50 L-13.40,-9.30 L-14.50,-10.30 L-15.30,-11.10 L-16.50,-12.20 L-16.80,-13.50 L-17.20,-14.70 L-16.50,-16.00 L-16.10,-17.50 L-16.20,-19.00 L-16.50,-19.70 L-17.00,-21.00 L-16.50,-22.50 L-16.00,-23.70 L-15.00,-25.00 L-14.50,-26.00 L-13.20,-27.50 L-11.50,-28.30 L-10.00,-29.50 L-9.80,-30.60 L-9.50,-32.50 L-8.50,-33.30 L-7.00,-33.80 L-6.50,-34.50 L-5.90,-35.80 M32.50,-30.00 L32.70,-29.60 L33.30,-28.50 L34.20,-27.80 L34.50,-28.50 L34.90,-29.50 L35.00,-28.50 L35.20,-28.00 L36.50,-26.50 L37.50,-24.50 L38.50,-23.50 L39.10,-22.00 L39.50,-20.50 L40.50,-19.50 L41.20,-18.00 L42.00,-17.00 L42.70,-16.00 L42.80,-15.00 L43.20,-13.70 L43.50,-12.70 L44.50,-12.80 L45.00,-12.80 L46.00,-13.30 L47.50,-13.80 L49.00,-14.50 L50.20,-15.00 L51.50,-15.40 L52.20,-15.70 L52.30,-16.50 L53.50,-16.80 L55.00,-17.50 L55.50,-17.90 L56.50,-18.20 L57.00,-18.80 L57.80,-19.00 L57.80,-20.20 L58.50,-20.60 L59.40,-21.50 L59.80,-22.50 L58.80,-23.50 L57.50,-23.80 L56.40,-24.80 L56.30,-26.20 L56.00,-26.00 L55.50,-25.50 L54.50,-24.20 L53.00,-24.10 L51.60,-24.20 L51.60,-25.80 L51.20,-26.10 L50.80,-24.80 L50.20,-25.80 L49.50,-27.10 L48.50,-28.40 L48.00,-29.40 L48.60,-30.00 M48.60,-30.00 L49.50,-30.10 L50.30,-29.30 L50.80,-28.50 L51.40,-27.90 L52.70,-27.30 L54.00,-26.60 L55.50,-26.60 L56.30,-27.20 L57.00,-26.50 L57.30,-25.80 L58.80,-25.50 L61.60,-25.20 L63.00,-25.10 M32.30,-31.30 L33.50,-31.10 L34.20,-31.30 L34.70,-32.00 L35.00,-33.00 L35.50,-34.00 L35.90,-35.00 L35.80,-36.30 L36.20,-36.90 L35.50,-36.60 L34.50,-36.80 L33.00,-36.10 L32.00,-36.60 L30.60,-36.80 L29.50,-36.20 L28.00,-36.80 L27.20,-37.50 L26.50,-38.20 L26.80,-39.50 L26.20,-39.90 L26.70,-40.40 L27.50,-40.60 L29.00,-41.00 L29.10,-41.20 L31.00,-41.10 L33.00,-41.90 L35.00,-42.10 L36.50,-41.30 L38.00,-41.00 L40.00,-41.00 L41.50,-41.50 L41.60,-42.60 M26.20,-40.90 L24.00,-40.70 L23.00,-40.50 L22.60,-40.20 L23.00,-39.40 L22.90,-38.30 L23.20,-38.00 L22.70,-37.50 L23.00,-36.50 L22.50,-36.40 L21.70,-36.80 L21.30,-37.70 L21.70,-38.30 L20.80,-39.00 L20.20,-39.70 L19.40,-40.50 L19.50,-41.50 L19.30,-42.60 M11.00,-42.60 L12.20,-41.80 L13.00,-41.20 L14.00,-41.00 L14.50,-40.60 L15.60,-40.00 L15.80,-38.90 L15.70,-38.00 L16.50,-38.40 L17.10,-39.00 L16.60,-39.60 L17.00,-40.50 L18.50,-40.10 L17.30,-40.90 L16.00,-41.50 L15.60,-41.90 L14.20,-42.60 M12.40,-37.80 L13.40,-38.20 L15.60,-38.30 L15.10,-37.30 L15.10,-36.70 L14.30,-37.00 L12.60,-37.60 L12.40,-37.80 M8.40,-39.00 L8.40,-40.50 L9.20,-41.20 L9.80,-40.80 L9.60,-39.20 L9.00,-39.00 L8.40,-39.00 M8.60,-41.60 L9.20,-41.40 L9.50,-42.40 L9.40,-43.00 L8.60,-42.60 L8.60,-41.60 M23.50,-35.30 L24.30,-35.60 L26.30,-35.30 L26.00,-35.00 L24.70,-34.90 L23.50,-35.20 L23.50,-35.30 M32.30,-35.00 L33.00,-35.40 L34.60,-35.70 L33.90,-35.10 L33.00,-34.60 L32.40,-34.80 L32.30,-35.00 M-8.90,-43.00 L-8.80,-41.00 L-9.50,-39.00 L-9.20,-38.50 L-8.80,-37.90 L-8.90,-37.00 L-7.50,-37.20 L-6.40,-36.80 L-6.00,-36.20 L-5.60,-36.00 L-5.30,-36.20 L-4.40,-36.70 L-2.10,-36.70 L-1.60,-37.50 L-0.70,-37.60 L-0.50,-38.30 L0.20,-38.80 L-0.30,-39.50 L0.00,-40.00 L0.90,-41.00 L2.20,-41.40 L3.20,-41.90 L3.10,-43.00 M2.40,-39.50 L3.00,-39.90 L3.40,-39.70 L3.00,-39.30 L2.40,-39.50 M47.00,-43.00 L47.50,-42.00 L48.50,-41.50 L49.50,-40.30 L49.00,-39.00 L48.90,-38.30 L49.30,-37.60 L50.50,-37.00 L52.00,-36.70 L53.90,-36.90 L54.00,-37.50 L53.80,-38.70 L53.10,-39.30 L53.50,-40.00 L52.80,-41.00 L52.60,-42.00 L52.80,-43.00 M49.30,12.00 L50.20,14.00 L50.50,15.50 L49.80,16.50 L49.40,18.00 L48.50,20.50 L47.80,22.50 L47.10,24.80 L45.20,25.60 L44.00,25.00 L43.60,23.50 L43.30,22.00 L43.70,21.00 L44.40,19.50 L44.00,17.50 L44.40,16.20 L45.80,15.80 L46.50,15.50 L47.80,14.50 L48.30,13.50 L49.30,12.00 M32.00,0.30 L33.00,-0.30 L34.00,-0.00 L34.80,0.40 L33.80,1.50 L33.50,2.40 L32.50,2.50 L31.60,1.80 L31.80,0.60 L32.00,0.30 M29.20,3.30 L29.40,5.50 L29.90,7.00 L30.70,8.60 L31.10,8.50 L30.50,7.00 L29.90,5.50 L29.40,3.40 M34.00,9.50 L34.30,11.00 L34.50,12.50 L35.20,14.40 L34.80,12.50 L34.60,11.00 L34.20,9.70 M53.30,-12.60 L54.00,-12.70 L54.50,-12.50 L54.00,-12.30 L53.30,-12.60" fill="none" stroke="#222" stroke-width="0.55" stroke-linejoin="round" vector-effect="non-scaling-stroke"/>
<path d="M-15.90,-28.00 h0.6" stroke="#222" stroke-width="0.6" vector-effect="non-scaling-stroke"/>
<path d="M-16.90,-28.30 h0.6" stroke="#222" stroke-width="0.6" vector-effect="non-scaling-stroke"/>
<path d="M-14.20,-28.50 h0.6" stroke="#222" stroke-width="0.6" vector-effect="non-scaling-stroke"/>
<path d="M-14.40,-28.40 h0.6" stroke="#222" stroke-width="0.6" vector-effect="non-scaling-stroke"/>
<path d="M-18.10,-28.60 h0.6" stroke="#222" stroke-width="0.6" vector-effect="non-scaling-stroke"/>
<path d="M57.20,20.30 h0.6" stroke="#222" stroke-width="0.6" vector-effect="non-scaling-stroke"/>
<path d="M55.20,21.10 h0.6" stroke="#222" stroke-width="0.6" vector-effect="non-scaling-stroke"/>
</g>
<filter id="soft" x="-5%" y="-20%" width="110%" height="140%"><feGaussianBlur stdDeviation="0.45"/></filter>
<clipPath id="clipA"><rect x="36" y="14.5" width="131.4" height="143.3"/></clipPath>
<clipPath id="clipD"><rect x="36.4" y="241.6" width="136.2" height="146.9"/></clipPath>
</defs>
<g clip-path="url(#clipA)">
<g filter="url(#soft)">
<path d="M39.50,64.00 L42.00,62.50 L44.80,58.50 L47.00,56.00 L49.10,55.00 L53.50,54.60 L58.80,55.20 L62.30,56.20 L67.50,56.80 L72.80,57.60 L77.20,59.50 L80.00,62.00 L84.00,63.20 L96.00,63.40 L100.00,63.20 L104.00,62.60 L106.60,61.10 L108.40,59.80 L114.50,60.10 L119.80,60.80 L121.50,65.50 L123.70,70.80 L123.30,72.10 L120.60,75.10 L116.30,74.30 L107.50,73.40 L98.80,73.60 L95.00,76.50 L93.50,78.60 L91.80,77.80 L88.50,75.50 L79.80,74.20 L72.80,74.00 L64.90,74.60 L58.00,75.20 L53.50,74.00 L44.80,73.40 L39.50,73.00 Z" fill="#34dcff"/>
<clipPath id="tz1"><path d="M39.50,64.00 L42.00,62.50 L44.80,58.50 L47.00,56.00 L49.10,55.00 L53.50,54.60 L58.80,55.20 L62.30,56.20 L67.50,56.80 L72.80,57.60 L77.20,59.50 L80.00,62.00 L84.00,63.20 L96.00,63.40 L100.00,63.20 L104.00,62.60 L106.60,61.10 L108.40,59.80 L114.50,60.10 L119.80,60.80 L121.50,65.50 L123.70,70.80 L123.30,72.10 L120.60,75.10 L116.30,74.30 L107.50,73.40 L98.80,73.60 L95.00,76.50 L93.50,78.60 L91.80,77.80 L88.50,75.50 L79.80,74.20 L72.80,74.00 L64.90,74.60 L58.00,75.20 L53.50,74.00 L44.80,73.40 L39.50,73.00 Z"/></clipPath>
<g clip-path="url(#tz1)" fill-opacity="0.7"><ellipse cx="50.8" cy="74.9" rx="3.0" ry="1.1" fill="#26ccff"/><ellipse cx="103.6" cy="65.9" rx="2.3" ry="1.0" fill="#26ccff"/><ellipse cx="41.9" cy="74.7" rx="2.4" ry="1.6" fill="#48e8ff"/><ellipse cx="98.1" cy="61.0" rx="3.1" ry="1.4" fill="#48e8ff"/><ellipse cx="115.4" cy="55.3" rx="1.6" ry="1.3" fill="#26ccff"/><ellipse cx="97.3" cy="77.9" rx="3.0" ry="1.3" fill="#26ccff"/><ellipse cx="118.6" cy="67.9" rx="2.2" ry="1.5" fill="#26ccff"/><ellipse cx="119.7" cy="76.8" rx="2.3" ry="1.7" fill="#5ef2ff"/><ellipse cx="47.9" cy="69.7" rx="2.9" ry="1.1" fill="#5ef2ff"/><ellipse cx="67.5" cy="71.9" rx="2.9" ry="1.7" fill="#26ccff"/><ellipse cx="82.2" cy="76.4" rx="1.9" ry="1.1" fill="#26ccff"/><ellipse cx="110.7" cy="66.7" rx="2.7" ry="0.8" fill="#48e8ff"/><ellipse cx="102.1" cy="64.3" rx="2.8" ry="1.2" fill="#5ef2ff"/><ellipse cx="104.8" cy="72.3" rx="1.7" ry="1.5" fill="#48e8ff"/><ellipse cx="105.0" cy="67.1" rx="2.3" ry="1.3" fill="#48e8ff"/><ellipse cx="79.0" cy="62.0" rx="3.2" ry="1.4" fill="#5ef2ff"/><ellipse cx="72.6" cy="58.7" rx="2.5" ry="1.8" fill="#48e8ff"/><ellipse cx="84.9" cy="75.2" rx="2.0" ry="1.3" fill="#5ef2ff"/><ellipse cx="69.2" cy="76.4" rx="2.8" ry="1.4" fill="#5ef2ff"/><ellipse cx="40.0" cy="73.4" rx="3.1" ry="1.7" fill="#5ef2ff"/><ellipse cx="82.7" cy="57.7" rx="3.1" ry="1.0" fill="#48e8ff"/><ellipse cx="80.0" cy="63.4" rx="2.6" ry="1.7" fill="#26ccff"/><ellipse cx="80.3" cy="63.2" rx="2.2" ry="1.3" fill="#5ef2ff"/><ellipse cx="105.7" cy="62.5" rx="2.7" ry="1.6" fill="#5ef2ff"/><ellipse cx="54.4" cy="68.6" rx="3.2" ry="1.6" fill="#26ccff"/><ellipse cx="42.2" cy="77.2" rx="1.6" ry="1.7" fill="#26ccff"/><ellipse cx="40.7" cy="72.7" rx="2.0" ry="0.9" fill="#5ef2ff"/><ellipse cx="55.0" cy="61.6" rx="1.8" ry="1.1" fill="#48e8ff"/><ellipse cx="94.8" cy="70.2" rx="2.1" ry="1.5" fill="#26ccff"/><ellipse cx="79.4" cy="55.2" rx="2.3" ry="1.2" fill="#48e8ff"/><ellipse cx="61.3" cy="60.7" rx="3.0" ry="1.8" fill="#5ef2ff"/><ellipse cx="75.8" cy="78.0" rx="2.0" ry="1.2" fill="#48e8ff"/><ellipse cx="100.0" cy="58.4" rx="2.9" ry="1.5" fill="#5ef2ff"/><ellipse cx="109.6" cy="78.0" rx="2.8" ry="1.5" fill="#26ccff"/><ellipse cx="58.3" cy="70.2" rx="2.3" ry="1.4" fill="#26ccff"/><ellipse cx="95.1" cy="64.8" rx="3.0" ry="0.9" fill="#48e8ff"/><ellipse cx="113.2" cy="62.0" rx="3.2" ry="1.1" fill="#26ccff"/><ellipse cx="102.1" cy="64.6" rx="2.0" ry="0.8" fill="#48e8ff"/><ellipse cx="89.2" cy="59.8" rx="3.3" ry="1.3" fill="#5ef2ff"/><ellipse cx="92.0" cy="55.5" rx="1.9" ry="0.9" fill="#5ef2ff"/><ellipse cx="96.3" cy="65.0" rx="1.9" ry="0.9" fill="#5ef2ff"/><ellipse cx="72.3" cy="66.7" rx="1.5" ry="1.4" fill="#26ccff"/><ellipse cx="115.3" cy="55.0" rx="1.9" ry="1.1" fill="#5ef2ff"/><ellipse cx="105.4" cy="62.7" rx="1.9" ry="1.5" fill="#26ccff"/><ellipse cx="118.0" cy="62.9" rx="3.3" ry="1.5" fill="#26ccff"/><ellipse cx="104.2" cy="67.4" rx="1.6" ry="0.8" fill="#48e8ff"/><ellipse cx="53.8" cy="76.5" rx="1.9" ry="1.6" fill="#5ef2ff"/><ellipse cx="82.1" cy="60.7" rx="2.2" ry="0.9" fill="#48e8ff"/><ellipse cx="112.5" cy="69.1" rx="3.4" ry="1.7" fill="#48e8ff"/><ellipse cx="88.3" cy="73.1" rx="2.1" ry="1.2" fill="#26ccff"/><ellipse cx="112.4" cy="73.5" rx="3.2" ry="1.1" fill="#5ef2ff"/><ellipse cx="89.0" cy="76.8" rx="1.7" ry="1.4" fill="#5ef2ff"/><ellipse cx="46.4" cy="61.0" rx="3.3" ry="1.4" fill="#48e8ff"/><ellipse cx="78.0" cy="61.3" rx="3.1" ry="1.6" fill="#48e8ff"/><ellipse cx="91.2" cy="54.9" rx="2.3" ry="1.6" fill="#48e8ff"/><ellipse cx="55.3" cy="73.5" rx="2.7" ry="1.0" fill="#26ccff"/><ellipse cx="53.6" cy="60.4" rx="3.0" ry="0.9" fill="#26ccff"/><ellipse cx="107.4" cy="67.6" rx="3.1" ry="1.4" fill="#5ef2ff"/><ellipse cx="79.7" cy="57.0" rx="2.8" ry="0.8" fill="#48e8ff"/><ellipse cx="105.8" cy="76.8" rx="3.0" ry="1.1" fill="#26ccff"/></g>
<ellipse cx="60" cy="60.5" rx="13" ry="2.6" fill="#30c4ff"/>
<ellipse cx="56" cy="62.5" rx="9" ry="1.8" fill="#2aa8f8"/>
<path d="M45.20,63.80 L122.00,63.80 L122.50,72.10 L45.20,72.10 Z" fill="#26ccfc"/>
<path d="M45.20,63.80 L82.00,63.80 L86.00,66.00 L84.00,72.10 L45.20,72.10 Z" fill="#2486f2"/>
<ellipse cx="58" cy="66.0" rx="12" ry="2.4" fill="#1a5ee4"/>
<ellipse cx="54" cy="65.2" rx="5" ry="1.4" fill="#1650dc"/>
<ellipse cx="72" cy="68.5" rx="9" ry="2.4" fill="#2070ee"/>
<ellipse cx="86" cy="67.5" rx="5" ry="3.5" fill="#2ea8fa"/>
<ellipse cx="60" cy="71.0" rx="14" ry="1.3" fill="#2a9cf8"/>
<ellipse cx="113" cy="67.0" rx="7" ry="3.6" fill="#1cbaf8"/>
<ellipse cx="93" cy="67.5" rx="5" ry="3" fill="#40e0ff"/>
<clipPath id="tz2"><path d="M45.60,64.20 L121.50,64.20 L121.50,71.70 L45.60,71.70 Z"/></clipPath>
<g clip-path="url(#tz2)" fill-opacity="0.45"><ellipse cx="118.2" cy="71.3" rx="1.6" ry="0.9" fill="#2a8cf6"/><ellipse cx="101.5" cy="69.2" rx="2.1" ry="1.2" fill="#2478f0"/><ellipse cx="89.7" cy="65.4" rx="2.4" ry="1.1" fill="#2ab8fa"/><ellipse cx="86.9" cy="67.5" rx="2.0" ry="0.8" fill="#2478f0"/><ellipse cx="73.2" cy="71.2" rx="3.3" ry="1.1" fill="#2a8cf6"/><ellipse cx="88.1" cy="66.0" rx="1.5" ry="1.0" fill="#2a8cf6"/><ellipse cx="84.3" cy="66.9" rx="2.5" ry="1.2" fill="#3ed8ff"/><ellipse cx="106.1" cy="69.7" rx="3.3" ry="1.3" fill="#2ab8fa"/><ellipse cx="73.1" cy="70.6" rx="2.4" ry="1.5" fill="#3ed8ff"/><ellipse cx="99.9" cy="67.7" rx="2.6" ry="1.1" fill="#3ed8ff"/><ellipse cx="83.6" cy="70.4" rx="2.2" ry="1.4" fill="#3ed8ff"/><ellipse cx="72.2" cy="69.6" rx="2.6" ry="1.1" fill="#2a8cf6"/><ellipse cx="117.0" cy="70.3" rx="3.2" ry="1.4" fill="#2ab8fa"/><ellipse cx="104.3" cy="67.8" rx="2.1" ry="1.4" fill="#3ed8ff"/><ellipse cx="69.3" cy="65.8" rx="2.5" ry="1.5" fill="#2478f0"/><ellipse cx="105.1" cy="66.8" rx="1.5" ry="1.4" fill="#2478f0"/><ellipse cx="50.1" cy="69.1" rx="2.0" ry="1.0" fill="#2478f0"/><ellipse cx="102.9" cy="65.2" rx="2.0" ry="1.4" fill="#2478f0"/><ellipse cx="77.7" cy="69.6" rx="1.6" ry="1.1" fill="#2a8cf6"/><ellipse cx="64.5" cy="64.4" rx="1.7" ry="0.8" fill="#2478f0"/><ellipse cx="101.0" cy="64.4" rx="2.0" ry="1.4" fill="#2a8cf6"/><ellipse cx="101.4" cy="68.1" rx="1.5" ry="1.2" fill="#2a8cf6"/><ellipse cx="57.1" cy="64.5" rx="2.2" ry="1.2" fill="#2478f0"/><ellipse cx="67.3" cy="67.9" rx="2.1" ry="1.2" fill="#2478f0"/><ellipse cx="114.1" cy="69.9" rx="3.2" ry="1.3" fill="#3ed8ff"/><ellipse cx="118.4" cy="64.9" rx="2.9" ry="1.4" fill="#2478f0"/><ellipse cx="79.6" cy="70.8" rx="1.8" ry="1.2" fill="#3ed8ff"/><ellipse cx="82.6" cy="66.7" rx="3.2" ry="1.0" fill="#2ab8fa"/><ellipse cx="91.6" cy="67.3" rx="1.5" ry="1.2" fill="#2a8cf6"/><ellipse cx="96.5" cy="66.1" rx="1.8" ry="0.9" fill="#3ed8ff"/><ellipse cx="93.8" cy="68.0" rx="3.5" ry="1.5" fill="#2a8cf6"/><ellipse cx="63.2" cy="67.5" rx="2.0" ry="1.2" fill="#2ab8fa"/><ellipse cx="65.1" cy="67.4" rx="2.6" ry="0.8" fill="#2478f0"/><ellipse cx="74.8" cy="65.4" rx="2.5" ry="0.9" fill="#2478f0"/><ellipse cx="53.2" cy="65.6" rx="2.0" ry="1.0" fill="#3ed8ff"/><ellipse cx="80.0" cy="68.2" rx="2.3" ry="1.3" fill="#2a8cf6"/><ellipse cx="100.9" cy="67.5" rx="2.5" ry="1.2" fill="#2478f0"/><ellipse cx="112.5" cy="71.2" rx="2.7" ry="1.4" fill="#3ed8ff"/><ellipse cx="73.4" cy="68.1" rx="3.3" ry="1.2" fill="#2ab8fa"/><ellipse cx="98.0" cy="71.2" rx="2.1" ry="1.4" fill="#3ed8ff"/><ellipse cx="53.3" cy="66.5" rx="3.2" ry="1.3" fill="#2478f0"/><ellipse cx="107.2" cy="64.6" rx="2.8" ry="1.1" fill="#2478f0"/><ellipse cx="46.0" cy="64.4" rx="2.1" ry="1.3" fill="#2a8cf6"/><ellipse cx="102.9" cy="65.6" rx="2.6" ry="1.1" fill="#3ed8ff"/><ellipse cx="56.2" cy="66.8" rx="3.3" ry="1.0" fill="#2478f0"/></g>
<path d="M80.60,68.60 L83.20,68.30 L84.00,69.80 L85.50,68.90 L86.60,69.20 L86.40,71.60 L80.60,71.60 Z" fill="#ffffff"/>
<path d="M83.60,70.00 L84.60,69.50 L85.20,71.60 L84.00,71.60 Z" fill="#6eeeff"/>
<path d="M145.00,64.50 L149.00,61.50 L154.00,59.00 L158.00,56.00 L161.00,52.50 L163.00,49.80 L165.20,50.30 L164.80,53.50 L162.00,57.50 L157.50,61.00 L152.00,64.00 L147.50,66.30 L145.20,66.60 Z" fill="#38e0ff"/>
<path d="M150.00,62.60 L155.00,60.00 L160.00,55.50 L162.50,52.20 L161.60,55.00 L157.00,60.50 L151.00,63.60 Z" fill="#22b0fa"/>
<clipPath id="tz3"><path d="M145.00,64.50 L149.00,61.50 L154.00,59.00 L158.00,56.00 L161.00,52.50 L163.00,49.80 L165.20,50.30 L164.80,53.50 L162.00,57.50 L157.50,61.00 L152.00,64.00 L147.50,66.30 L145.20,66.60 Z"/></clipPath>
<g clip-path="url(#tz3)" fill-opacity="0.6"><ellipse cx="161.0" cy="63.6" rx="1.3" ry="0.6" fill="#5ef0ff"/><ellipse cx="147.9" cy="59.7" rx="1.8" ry="0.9" fill="#2ad0ff"/><ellipse cx="160.6" cy="54.4" rx="1.6" ry="0.9" fill="#2ad0ff"/><ellipse cx="163.4" cy="58.9" rx="0.9" ry="0.8" fill="#ffffff"/><ellipse cx="161.3" cy="54.3" rx="1.6" ry="0.8" fill="#2ad0ff"/><ellipse cx="151.8" cy="51.4" rx="1.6" ry="0.9" fill="#2ad0ff"/><ellipse cx="159.1" cy="62.5" rx="1.5" ry="0.9" fill="#5ef0ff"/><ellipse cx="164.2" cy="59.7" rx="1.0" ry="0.8" fill="#2ad0ff"/><ellipse cx="154.8" cy="63.8" rx="1.0" ry="0.8" fill="#ffffff"/><ellipse cx="163.0" cy="58.3" rx="1.7" ry="0.8" fill="#5ef0ff"/><ellipse cx="157.2" cy="54.9" rx="1.4" ry="0.5" fill="#ffffff"/><ellipse cx="155.6" cy="51.8" rx="1.5" ry="0.7" fill="#5ef0ff"/><ellipse cx="152.7" cy="53.5" rx="1.4" ry="0.9" fill="#ffffff"/><ellipse cx="155.5" cy="53.0" rx="1.0" ry="0.8" fill="#ffffff"/><ellipse cx="163.3" cy="60.2" rx="1.1" ry="0.7" fill="#2ad0ff"/><ellipse cx="150.8" cy="61.2" rx="1.3" ry="0.6" fill="#ffffff"/><ellipse cx="160.1" cy="56.5" rx="1.8" ry="0.6" fill="#5ef0ff"/><ellipse cx="163.0" cy="61.1" rx="1.7" ry="0.7" fill="#2ad0ff"/><ellipse cx="161.1" cy="58.5" rx="1.3" ry="0.9" fill="#2ad0ff"/><ellipse cx="164.0" cy="53.0" rx="1.5" ry="0.7" fill="#ffffff"/></g>
<path d="M161.50,68.00 L163.50,67.50 L164.40,70.00 L164.00,75.50 L162.30,76.30 L161.60,72.00 Z" fill="#f6d23a"/>
</g>
<use href="#coast" transform="matrix(1.5532 0 0 1.8116 71.26 90.59)"/>
</g>
<rect x="45.17" y="63.78" width="88.14" height="8.33" fill="none" stroke="#262626" stroke-width="1.0"/>
<rect x="43.92" y="52.80" width="90.24" height="21.49" fill="none" stroke="#3a3a3a" stroke-width="1.1" stroke-dasharray="2.8,1.75"/>
<rect x="36" y="14.5" width="131.4" height="143.3" fill="none" stroke="#c4c4c4" stroke-width="1.4"/>
<text x="101.60" y="11.60" font-size="5.4" text-anchor="middle" fill="#000" font-weight="bold" textLength="111.7" lengthAdjust="spacingAndGlyphs">Precipitation change in JAS (AFFO - CON)</text>
<text x="32.60" y="38.01" font-size="4.9" text-anchor="end" fill="#484848" font-weight="bold">30<tspan font-size="2.6" dy="-2.3">o</tspan><tspan dy="2.3"> </tspan>N</text>
<text x="32.60" y="65.18" font-size="4.9" text-anchor="end" fill="#484848" font-weight="bold">15<tspan font-size="2.6" dy="-2.3">o</tspan><tspan dy="2.3"> </tspan>N</text>
<text x="32.60" y="92.35" font-size="4.9" text-anchor="end" fill="#484848" font-weight="bold">0<tspan font-size="2.6" dy="-2.3">o</tspan><tspan dy="2.3"> </tspan></text>
<text x="32.60" y="119.53" font-size="4.9" text-anchor="end" fill="#484848" font-weight="bold">15<tspan font-size="2.6" dy="-2.3">o</tspan><tspan dy="2.3"> </tspan>S</text>
<text x="32.60" y="146.70" font-size="4.9" text-anchor="end" fill="#484848" font-weight="bold">30<tspan font-size="2.6" dy="-2.3">o</tspan><tspan dy="2.3"> </tspan>S</text>
<text x="47.96" y="167.16" font-size="4.9" text-anchor="middle" fill="#484848" font-weight="bold">15<tspan font-size="2.6" dy="-2.3">o</tspan><tspan dy="2.3"> </tspan>W</text>
<text x="71.26" y="167.16" font-size="4.9" text-anchor="middle" fill="#484848" font-weight="bold">0<tspan font-size="2.6" dy="-2.3">o</tspan><tspan dy="2.3"> </tspan></text>
<text x="94.56" y="167.16" font-size="4.9" text-anchor="middle" fill="#484848" font-weight="bold">15<tspan font-size="2.6" dy="-2.3">o</tspan><tspan dy="2.3"> </tspan>E</text>
<text x="117.86" y="167.16" font-size="4.9" text-anchor="middle" fill="#484848" font-weight="bold">30<tspan font-size="2.6" dy="-2.3">o</tspan><tspan dy="2.3"> </tspan>E</text>
<text x="141.15" y="167.16" font-size="4.9" text-anchor="middle" fill="#484848" font-weight="bold">45<tspan font-size="2.6" dy="-2.3">o</tspan><tspan dy="2.3"> </tspan>E</text>
<text x="164.45" y="167.16" font-size="4.9" text-anchor="middle" fill="#484848" font-weight="bold">60<tspan font-size="2.6" dy="-2.3">o</tspan><tspan dy="2.3"> </tspan>E</text>
<text x="101.80" y="176.09" font-size="5.8" text-anchor="middle" fill="#1a1a1a" textLength="24" lengthAdjust="spacingAndGlyphs" stroke="#1a1a1a" stroke-width="0.12">Longitude</text>
<text x="21.60" y="85.80" font-size="5.8" text-anchor="middle" fill="#1a1a1a" textLength="19.8" lengthAdjust="spacingAndGlyphs" transform="rotate(-90 21.60 85.80)" stroke="#1a1a1a" stroke-width="0.12">Latitude</text>
<g clip-path="url(#clipD)">
<g filter="url(#soft)">
<path d="M47.90,284.50 L49.00,283.20 L52.00,282.70 L56.00,282.80 L62.00,283.80 L68.00,283.20 L75.00,283.40 L80.00,283.60 L84.90,283.80 L85.50,287.00 L86.00,291.40 L96.50,291.40 L96.90,285.50 L98.50,282.60 L103.00,282.40 L106.40,282.80 L110.00,284.50 L113.40,286.40 L116.00,285.60 L118.60,285.20 L122.00,285.00 L125.60,285.40 L128.30,288.00 L130.00,291.40 L136.60,291.40 L136.60,300.20 L49.00,300.20 L47.90,298.00 Z" fill="#34dcff"/>
<clipPath id="tz4"><path d="M47.90,284.50 L49.00,283.20 L52.00,282.70 L56.00,282.80 L62.00,283.80 L68.00,283.20 L75.00,283.40 L80.00,283.60 L84.90,283.80 L85.50,287.00 L86.00,291.40 L96.50,291.40 L96.90,285.50 L98.50,282.60 L103.00,282.40 L106.40,282.80 L110.00,284.50 L113.40,286.40 L116.00,285.60 L118.60,285.20 L122.00,285.00 L125.60,285.40 L128.30,288.00 L130.00,291.40 L136.60,291.40 L136.60,300.20 L49.00,300.20 L47.90,298.00 Z"/></clipPath>
<g clip-path="url(#tz4)" fill-opacity="0.7"><ellipse cx="68.8" cy="284.2" rx="2.3" ry="1.0" fill="#48e8ff"/><ellipse cx="49.7" cy="292.2" rx="2.1" ry="1.8" fill="#48e8ff"/><ellipse cx="67.6" cy="292.0" rx="2.1" ry="1.0" fill="#48e8ff"/><ellipse cx="71.1" cy="299.2" rx="1.6" ry="1.4" fill="#26c8ff"/><ellipse cx="118.9" cy="285.8" rx="2.1" ry="1.4" fill="#5ef0ff"/><ellipse cx="133.1" cy="297.5" rx="2.2" ry="1.6" fill="#26c8ff"/><ellipse cx="107.5" cy="291.4" rx="1.9" ry="1.3" fill="#48e8ff"/><ellipse cx="131.7" cy="297.0" rx="3.4" ry="1.6" fill="#48e8ff"/><ellipse cx="128.5" cy="292.6" rx="3.3" ry="1.6" fill="#5ef0ff"/><ellipse cx="65.2" cy="289.9" rx="2.1" ry="1.3" fill="#48e8ff"/><ellipse cx="75.0" cy="296.9" rx="1.6" ry="0.8" fill="#5ef0ff"/><ellipse cx="136.4" cy="291.6" rx="2.8" ry="1.5" fill="#48e8ff"/><ellipse cx="136.4" cy="285.9" rx="2.3" ry="1.0" fill="#5ef0ff"/><ellipse cx="87.0" cy="285.7" rx="2.4" ry="1.4" fill="#5ef0ff"/><ellipse cx="97.4" cy="298.5" rx="1.7" ry="0.9" fill="#48e8ff"/><ellipse cx="72.5" cy="292.8" rx="3.2" ry="0.9" fill="#48e8ff"/><ellipse cx="73.7" cy="282.9" rx="2.2" ry="0.9" fill="#26c8ff"/><ellipse cx="113.1" cy="299.5" rx="1.5" ry="1.1" fill="#48e8ff"/><ellipse cx="116.7" cy="289.7" rx="3.4" ry="1.4" fill="#48e8ff"/><ellipse cx="73.9" cy="285.8" rx="2.4" ry="0.9" fill="#26c8ff"/><ellipse cx="101.0" cy="285.2" rx="2.6" ry="1.2" fill="#26c8ff"/><ellipse cx="62.9" cy="296.4" rx="2.2" ry="1.1" fill="#48e8ff"/><ellipse cx="86.9" cy="286.1" rx="3.3" ry="0.9" fill="#48e8ff"/><ellipse cx="52.8" cy="285.4" rx="2.9" ry="0.9" fill="#48e8ff"/><ellipse cx="96.4" cy="292.8" rx="2.1" ry="0.8" fill="#5ef0ff"/><ellipse cx="73.9" cy="300.1" rx="2.8" ry="1.0" fill="#48e8ff"/><ellipse cx="69.4" cy="289.7" rx="1.6" ry="1.2" fill="#48e8ff"/><ellipse cx="105.3" cy="290.0" rx="1.9" ry="1.0" fill="#48e8ff"/><ellipse cx="70.5" cy="286.7" rx="1.9" ry="1.0" fill="#26c8ff"/><ellipse cx="60.5" cy="283.3" rx="3.4" ry="1.4" fill="#5ef0ff"/><ellipse cx="83.6" cy="298.4" rx="2.8" ry="1.6" fill="#5ef0ff"/><ellipse cx="51.5" cy="289.3" rx="2.4" ry="1.7" fill="#5ef0ff"/><ellipse cx="127.7" cy="298.9" rx="2.2" ry="1.5" fill="#5ef0ff"/><ellipse cx="75.8" cy="289.9" rx="1.9" ry="1.6" fill="#26c8ff"/><ellipse cx="77.9" cy="289.4" rx="2.5" ry="1.7" fill="#26c8ff"/><ellipse cx="133.2" cy="294.3" rx="1.6" ry="1.7" fill="#48e8ff"/><ellipse cx="115.9" cy="287.2" rx="3.2" ry="1.7" fill="#5ef0ff"/><ellipse cx="104.2" cy="292.5" rx="3.0" ry="1.7" fill="#48e8ff"/><ellipse cx="118.7" cy="286.2" rx="1.8" ry="1.4" fill="#26c8ff"/><ellipse cx="58.2" cy="296.8" rx="3.1" ry="1.7" fill="#5ef0ff"/><ellipse cx="52.6" cy="299.3" rx="1.8" ry="1.4" fill="#5ef0ff"/><ellipse cx="116.5" cy="290.8" rx="2.6" ry="0.8" fill="#48e8ff"/><ellipse cx="109.6" cy="284.4" rx="2.6" ry="1.1" fill="#48e8ff"/><ellipse cx="51.6" cy="283.8" rx="3.3" ry="1.7" fill="#26c8ff"/><ellipse cx="122.2" cy="297.1" rx="1.7" ry="1.3" fill="#26c8ff"/><ellipse cx="66.1" cy="299.8" rx="2.3" ry="1.6" fill="#26c8ff"/><ellipse cx="56.3" cy="284.4" rx="2.7" ry="1.7" fill="#5ef0ff"/><ellipse cx="136.6" cy="289.8" rx="2.9" ry="1.2" fill="#5ef0ff"/><ellipse cx="126.1" cy="285.9" rx="2.1" ry="1.6" fill="#26c8ff"/><ellipse cx="58.4" cy="292.3" rx="2.2" ry="1.0" fill="#5ef0ff"/><ellipse cx="61.1" cy="291.2" rx="2.2" ry="1.3" fill="#48e8ff"/><ellipse cx="110.9" cy="282.5" rx="2.1" ry="1.3" fill="#26c8ff"/><ellipse cx="117.6" cy="293.1" rx="2.6" ry="1.3" fill="#26c8ff"/><ellipse cx="123.1" cy="288.8" rx="3.0" ry="1.8" fill="#5ef0ff"/><ellipse cx="48.1" cy="283.3" rx="3.3" ry="1.3" fill="#26c8ff"/><ellipse cx="117.3" cy="292.5" rx="3.4" ry="1.3" fill="#26c8ff"/><ellipse cx="102.3" cy="290.3" rx="1.8" ry="1.6" fill="#26c8ff"/><ellipse cx="135.3" cy="288.5" rx="2.4" ry="1.4" fill="#5ef0ff"/><ellipse cx="119.7" cy="285.6" rx="3.3" ry="1.2" fill="#5ef0ff"/><ellipse cx="118.3" cy="294.4" rx="3.3" ry="0.9" fill="#5ef0ff"/></g>
<path d="M47.90,291.40 L136.60,291.40 L136.60,297.00 L120.00,297.80 L100.00,296.80 L80.00,297.60 L60.00,297.00 L47.90,296.00 Z" fill="#2a9cf8"/>
<ellipse cx="58" cy="293.6" rx="9" ry="1.6" fill="#2080f0"/>
<ellipse cx="95" cy="294.0" rx="10" ry="1.5" fill="#2288f2"/>
<ellipse cx="118" cy="293.6" rx="8" ry="1.6" fill="#2490f4"/>
<ellipse cx="50" cy="297.5" rx="3" ry="2.2" fill="#40dcff"/>
<ellipse cx="132" cy="296.5" rx="4.5" ry="3" fill="#3ad4ff"/>
<clipPath id="tz5"><path d="M47.90,291.60 L136.60,291.60 L136.60,300.00 L47.90,300.00 Z"/></clipPath>
<g clip-path="url(#tz5)" fill-opacity="0.55"><ellipse cx="76.6" cy="292.9" rx="2.8" ry="0.9" fill="#2a9cf8"/><ellipse cx="80.3" cy="292.1" rx="2.5" ry="0.8" fill="#40d8ff"/><ellipse cx="85.0" cy="293.6" rx="2.6" ry="0.8" fill="#2a9cf8"/><ellipse cx="131.9" cy="296.9" rx="2.7" ry="0.8" fill="#40d8ff"/><ellipse cx="52.3" cy="293.5" rx="2.6" ry="0.9" fill="#40d8ff"/><ellipse cx="60.7" cy="292.6" rx="2.1" ry="1.4" fill="#34b8ff"/><ellipse cx="57.0" cy="296.4" rx="1.9" ry="0.9" fill="#2a9cf8"/><ellipse cx="98.0" cy="296.8" rx="2.5" ry="1.2" fill="#2280f0"/><ellipse cx="89.2" cy="299.4" rx="2.2" ry="1.0" fill="#34b8ff"/><ellipse cx="109.9" cy="293.7" rx="2.6" ry="1.2" fill="#2280f0"/><ellipse cx="112.6" cy="294.0" rx="3.5" ry="0.9" fill="#40d8ff"/><ellipse cx="62.5" cy="294.5" rx="3.4" ry="1.1" fill="#2a9cf8"/><ellipse cx="115.7" cy="296.4" rx="3.3" ry="1.0" fill="#2280f0"/><ellipse cx="100.6" cy="296.5" rx="2.4" ry="1.4" fill="#2280f0"/><ellipse cx="90.0" cy="297.2" rx="1.6" ry="1.3" fill="#40d8ff"/><ellipse cx="73.1" cy="294.8" rx="2.8" ry="0.8" fill="#40d8ff"/><ellipse cx="79.4" cy="296.7" rx="2.5" ry="1.0" fill="#2280f0"/><ellipse cx="59.4" cy="293.7" rx="2.3" ry="1.4" fill="#2a9cf8"/><ellipse cx="62.7" cy="295.0" rx="2.1" ry="0.9" fill="#40d8ff"/><ellipse cx="124.5" cy="293.9" rx="2.3" ry="1.1" fill="#40d8ff"/><ellipse cx="132.9" cy="292.9" rx="1.9" ry="1.0" fill="#34b8ff"/><ellipse cx="49.0" cy="298.6" rx="1.9" ry="1.0" fill="#34b8ff"/><ellipse cx="85.1" cy="294.7" rx="2.6" ry="1.5" fill="#2a9cf8"/><ellipse cx="88.4" cy="298.9" rx="3.4" ry="1.3" fill="#40d8ff"/><ellipse cx="83.2" cy="294.9" rx="2.5" ry="1.1" fill="#34b8ff"/><ellipse cx="53.9" cy="293.4" rx="1.8" ry="1.0" fill="#2a9cf8"/><ellipse cx="57.0" cy="296.4" rx="2.6" ry="1.5" fill="#2a9cf8"/><ellipse cx="54.1" cy="293.3" rx="2.3" ry="1.2" fill="#2280f0"/><ellipse cx="101.3" cy="295.6" rx="1.7" ry="1.1" fill="#40d8ff"/><ellipse cx="90.5" cy="294.2" rx="1.8" ry="1.3" fill="#2280f0"/><ellipse cx="90.4" cy="297.4" rx="2.5" ry="0.9" fill="#2280f0"/><ellipse cx="60.9" cy="296.2" rx="1.6" ry="1.2" fill="#2a9cf8"/><ellipse cx="109.7" cy="293.8" rx="2.2" ry="0.9" fill="#34b8ff"/><ellipse cx="95.1" cy="298.1" rx="2.2" ry="1.0" fill="#34b8ff"/><ellipse cx="119.4" cy="298.5" rx="3.0" ry="1.0" fill="#40d8ff"/><ellipse cx="79.4" cy="291.8" rx="1.6" ry="1.0" fill="#2280f0"/><ellipse cx="65.1" cy="296.7" rx="2.2" ry="1.4" fill="#2280f0"/><ellipse cx="132.6" cy="294.7" rx="1.9" ry="1.0" fill="#34b8ff"/><ellipse cx="77.9" cy="295.7" rx="3.5" ry="1.2" fill="#2a9cf8"/><ellipse cx="90.4" cy="297.1" rx="3.1" ry="0.9" fill="#2a9cf8"/></g>
<ellipse cx="58.5" cy="288.2" rx="5.5" ry="3.0" fill="#2078ee" transform="rotate(20 58.5 288.2)"/>
<ellipse cx="57.5" cy="288.8" rx="2.6" ry="2.0" fill="#1848d8"/>
<ellipse cx="66" cy="289.5" rx="4.5" ry="1.6" fill="#2a94f6" transform="rotate(-10 66 289.5)"/>
<ellipse cx="75" cy="288.5" rx="5" ry="2.2" fill="#34b8ff"/>
<ellipse cx="77.5" cy="286.8" rx="4.2" ry="1.0" fill="#ffffff"/>
<ellipse cx="104" cy="286.5" rx="5.2" ry="3.2" fill="#2a8ef4"/>
<ellipse cx="108.4" cy="287.4" rx="2.8" ry="2.4" fill="#1a5ce4"/>
<ellipse cx="121.5" cy="288.4" rx="4.0" ry="2.6" fill="#2aa4fc"/>
<ellipse cx="113" cy="289.8" rx="3" ry="1.4" fill="#2a9cf8"/>
<path d="M148.50,290.50 L152.00,288.00 L155.00,285.80 L158.50,284.20 L158.80,286.00 L155.00,289.50 L151.00,291.80 Z" fill="#38e0ff"/>
<clipPath id="tz6"><path d="M148.50,290.50 L152.00,288.00 L155.00,285.80 L158.50,284.20 L158.80,286.00 L155.00,289.50 L151.00,291.80 Z"/></clipPath>
<g clip-path="url(#tz6)" fill-opacity="0.7"><ellipse cx="154.9" cy="289.8" rx="1.4" ry="1.0" fill="#2fb8ff"/><ellipse cx="155.2" cy="288.2" rx="1.4" ry="0.9" fill="#ffffff"/><ellipse cx="155.2" cy="291.0" rx="0.9" ry="0.7" fill="#ffffff"/><ellipse cx="152.4" cy="285.0" rx="1.0" ry="0.9" fill="#60f0ff"/><ellipse cx="151.4" cy="291.2" rx="1.3" ry="0.6" fill="#ffffff"/><ellipse cx="149.9" cy="288.9" rx="0.9" ry="0.5" fill="#ffffff"/><ellipse cx="150.7" cy="285.8" rx="1.5" ry="0.9" fill="#60f0ff"/><ellipse cx="151.7" cy="285.7" rx="1.4" ry="0.8" fill="#ffffff"/><ellipse cx="158.2" cy="289.4" rx="1.5" ry="0.9" fill="#60f0ff"/><ellipse cx="148.7" cy="287.4" rx="1.5" ry="0.6" fill="#60f0ff"/><ellipse cx="151.6" cy="288.8" rx="0.8" ry="0.8" fill="#60f0ff"/><ellipse cx="149.2" cy="286.9" rx="1.0" ry="0.8" fill="#ffffff"/></g>
</g>
<use href="#coast" transform="matrix(1.6099 0 0 1.8571 72.94 319.6)"/>
</g>
<rect x="45.89" y="292.11" width="91.36" height="8.54" fill="none" stroke="#262626" stroke-width="1.0"/>
<rect x="44.61" y="280.86" width="93.54" height="22.03" fill="none" stroke="#3a3a3a" stroke-width="1.1" stroke-dasharray="2.8,1.75"/>
<rect x="36.4" y="241.6" width="136.2" height="146.9" fill="none" stroke="#c4c4c4" stroke-width="1.4"/>
<text x="104.10" y="238.20" font-size="5.4" text-anchor="middle" fill="#000" font-weight="bold" textLength="92.2" lengthAdjust="spacingAndGlyphs">SAT change in JAS (AFFO - CON)</text>
<text x="34.00" y="265.69" font-size="5.0" text-anchor="end" fill="#484848" font-weight="bold">30<tspan font-size="2.6" dy="-2.3">o</tspan><tspan dy="2.3"> </tspan>N</text>
<text x="34.00" y="293.54" font-size="5.0" text-anchor="end" fill="#484848" font-weight="bold">15<tspan font-size="2.6" dy="-2.3">o</tspan><tspan dy="2.3"> </tspan>N</text>
<text x="34.00" y="321.40" font-size="5.0" text-anchor="end" fill="#484848" font-weight="bold">0<tspan font-size="2.6" dy="-2.3">o</tspan><tspan dy="2.3"> </tspan></text>
<text x="34.00" y="349.26" font-size="5.0" text-anchor="end" fill="#484848" font-weight="bold">15<tspan font-size="2.6" dy="-2.3">o</tspan><tspan dy="2.3"> </tspan>S</text>
<text x="34.00" y="377.11" font-size="5.0" text-anchor="end" fill="#484848" font-weight="bold">30<tspan font-size="2.6" dy="-2.3">o</tspan><tspan dy="2.3"> </tspan>S</text>
<text x="48.79" y="397.80" font-size="5.0" text-anchor="middle" fill="#484848" font-weight="bold">15<tspan font-size="2.6" dy="-2.3">o</tspan><tspan dy="2.3"> </tspan>W</text>
<text x="72.94" y="397.80" font-size="5.0" text-anchor="middle" fill="#484848" font-weight="bold">0<tspan font-size="2.6" dy="-2.3">o</tspan><tspan dy="2.3"> </tspan></text>
<text x="97.09" y="397.80" font-size="5.0" text-anchor="middle" fill="#484848" font-weight="bold">15<tspan font-size="2.6" dy="-2.3">o</tspan><tspan dy="2.3"> </tspan>E</text>
<text x="121.24" y="397.80" font-size="5.0" text-anchor="middle" fill="#484848" font-weight="bold">30<tspan font-size="2.6" dy="-2.3">o</tspan><tspan dy="2.3"> </tspan>E</text>
<text x="145.39" y="397.80" font-size="5.0" text-anchor="middle" fill="#484848" font-weight="bold">45<tspan font-size="2.6" dy="-2.3">o</tspan><tspan dy="2.3"> </tspan>E</text>
<text x="169.53" y="397.80" font-size="5.0" text-anchor="middle" fill="#484848" font-weight="bold">60<tspan font-size="2.6" dy="-2.3">o</tspan><tspan dy="2.3"> </tspan>E</text>
<text x="104.30" y="406.99" font-size="5.8" text-anchor="middle" fill="#1a1a1a" textLength="24.6" lengthAdjust="spacingAndGlyphs" stroke="#1a1a1a" stroke-width="0.12">Longitude</text>
<text x="20.80" y="314.10" font-size="5.8" text-anchor="middle" fill="#1a1a1a" textLength="20.3" lengthAdjust="spacingAndGlyphs" transform="rotate(-90 20.80 314.10)" stroke="#1a1a1a" stroke-width="0.12">Latitude</text>
<rect x="17.60" y="190.4" width="10.14" height="10.099999999999994" fill="#6e0c0a"/>
<rect x="27.44" y="190.4" width="10.14" height="10.099999999999994" fill="#b81e0e"/>
<rect x="37.29" y="190.4" width="10.14" height="10.099999999999994" fill="#e8300c"/>
<rect x="47.13" y="190.4" width="10.14" height="10.099999999999994" fill="#f25412"/>
<rect x="56.98" y="190.4" width="10.14" height="10.099999999999994" fill="#f28c14"/>
<rect x="66.82" y="190.4" width="10.14" height="10.099999999999994" fill="#f6c024"/>
<rect x="76.66" y="190.4" width="10.14" height="10.099999999999994" fill="#ffff10"/>
<rect x="86.51" y="190.4" width="10.14" height="10.099999999999994" fill="#ffffff"/>
<rect x="96.35" y="190.4" width="10.14" height="10.099999999999994" fill="#ffffff"/>
<rect x="106.19" y="190.4" width="10.14" height="10.099999999999994" fill="#60f2ff"/>
<rect x="116.04" y="190.4" width="10.14" height="10.099999999999994" fill="#50c6ff"/>
<rect x="125.88" y="190.4" width="10.14" height="10.099999999999994" fill="#3c96ff"/>
<rect x="135.72" y="190.4" width="10.14" height="10.099999999999994" fill="#306cff"/>
<rect x="145.57" y="190.4" width="10.14" height="10.099999999999994" fill="#2a3cff"/>
<rect x="155.41" y="190.4" width="10.14" height="10.099999999999994" fill="#1c10ff"/>
<rect x="165.26" y="190.4" width="10.14" height="10.099999999999994" fill="#1a04c4"/>
<rect x="17.6" y="190.4" width="157.50" height="10.099999999999994" fill="none" stroke="#777" stroke-width="0.7"/>
<path d="M17.60,200.5 v-1.5" stroke="#555" stroke-width="0.6"/>
<text x="17.60" y="208.32" font-size="7.0" text-anchor="middle" fill="#2a2a2a">-4</text>
<path d="M56.98,200.5 v-1.5" stroke="#555" stroke-width="0.6"/>
<text x="56.98" y="208.32" font-size="7.0" text-anchor="middle" fill="#2a2a2a">-2</text>
<path d="M96.35,200.5 v-1.5" stroke="#555" stroke-width="0.6"/>
<text x="96.35" y="208.32" font-size="7.0" text-anchor="middle" fill="#2a2a2a">0</text>
<path d="M135.72,200.5 v-1.5" stroke="#555" stroke-width="0.6"/>
<text x="135.72" y="208.32" font-size="7.0" text-anchor="middle" fill="#2a2a2a">2</text>
<path d="M175.10,200.5 v-1.5" stroke="#555" stroke-width="0.6"/>
<text x="175.10" y="208.32" font-size="7.0" text-anchor="middle" fill="#2a2a2a">4</text>
<text x="97.4" y="214.0" font-size="7.2" text-anchor="middle" fill="#2a2a2a">mm d<tspan font-size="4.2" dy="-2.6">-</tspan><tspan dy="2.6">1</tspan></text>
<rect x="11.40" y="422.2" width="10.97" height="10.800000000000011" fill="#0000c0"/>
<rect x="22.07" y="422.2" width="10.97" height="10.800000000000011" fill="#0000ff"/>
<rect x="32.75" y="422.2" width="10.97" height="10.800000000000011" fill="#0a3cff"/>
<rect x="43.42" y="422.2" width="10.97" height="10.800000000000011" fill="#1468ff"/>
<rect x="54.10" y="422.2" width="10.97" height="10.800000000000011" fill="#1e96ff"/>
<rect x="64.77" y="422.2" width="10.97" height="10.800000000000011" fill="#28c8ff"/>
<rect x="75.45" y="422.2" width="10.97" height="10.800000000000011" fill="#3cf0ff"/>
<rect x="86.12" y="422.2" width="10.97" height="10.800000000000011" fill="#ffffff"/>
<rect x="96.80" y="422.2" width="10.97" height="10.800000000000011" fill="#ffffff"/>
<rect x="107.47" y="422.2" width="10.97" height="10.800000000000011" fill="#ffff10"/>
<rect x="118.15" y="422.2" width="10.97" height="10.800000000000011" fill="#ffc000"/>
<rect x="128.82" y="422.2" width="10.97" height="10.800000000000011" fill="#ff8c00"/>
<rect x="139.50" y="422.2" width="10.97" height="10.800000000000011" fill="#ff5000"/>
<rect x="150.17" y="422.2" width="10.97" height="10.800000000000011" fill="#ff2000"/>
<rect x="160.85" y="422.2" width="10.97" height="10.800000000000011" fill="#c81400"/>
<rect x="171.52" y="422.2" width="10.97" height="10.800000000000011" fill="#780a0a"/>
<rect x="11.4" y="422.2" width="170.80" height="10.800000000000011" fill="none" stroke="#777" stroke-width="0.7"/>
<path d="M11.40,433.0 v-1.5" stroke="#555" stroke-width="0.6"/>
<text x="11.40" y="441.04" font-size="7.6" text-anchor="middle" fill="#2a2a2a">-4</text>
<path d="M54.10,433.0 v-1.5" stroke="#555" stroke-width="0.6"/>
<text x="54.10" y="441.04" font-size="7.6" text-anchor="middle" fill="#2a2a2a">-2</text>
<path d="M96.80,433.0 v-1.5" stroke="#555" stroke-width="0.6"/>
<text x="96.80" y="441.04" font-size="7.6" text-anchor="middle" fill="#2a2a2a">0</text>
<path d="M139.50,433.0 v-1.5" stroke="#555" stroke-width="0.6"/>
<text x="139.50" y="441.04" font-size="7.6" text-anchor="middle" fill="#2a2a2a">2</text>
<path d="M182.20,433.0 v-1.5" stroke="#555" stroke-width="0.6"/>
<text x="182.20" y="441.04" font-size="7.6" text-anchor="middle" fill="#2a2a2a">4</text>
<text x="97.0" y="450.0" font-size="8.6" text-anchor="middle" fill="#2a2a2a"><tspan font-size="5" dy="-3.4">o</tspan><tspan dy="3.4">C</tspan></text>
</svg>
</body></html>
